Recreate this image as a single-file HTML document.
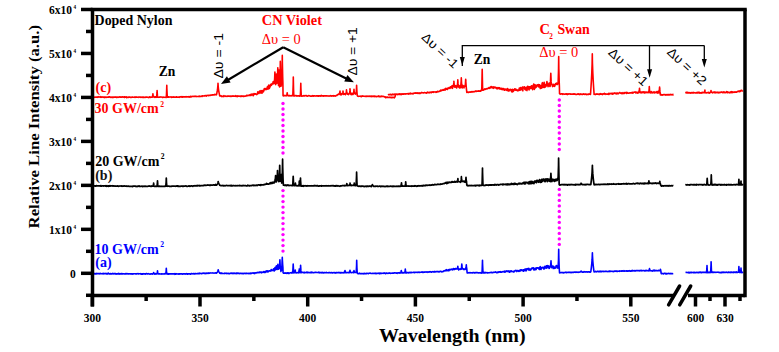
<!DOCTYPE html>
<html><head><meta charset="utf-8"><style>
html,body{margin:0;padding:0;background:#fff;}
svg{display:block;}
</style></head><body>
<svg width="779" height="352" viewBox="0 0 779 352">
<rect width="779" height="352" fill="#fff"/>
<g fill="#ff00ff"><circle cx="283" cy="103.50" r="1.7"/><circle cx="283" cy="109.00" r="1.7"/><circle cx="283" cy="114.50" r="1.7"/><circle cx="283" cy="120.00" r="1.7"/><circle cx="283" cy="125.50" r="1.7"/><circle cx="283" cy="131.00" r="1.7"/><circle cx="283" cy="136.50" r="1.7"/><circle cx="283" cy="142.00" r="1.7"/><circle cx="283" cy="147.50" r="1.7"/><circle cx="283" cy="153.00" r="1.7"/><circle cx="283" cy="190.60" r="1.7"/><circle cx="283" cy="196.10" r="1.7"/><circle cx="283" cy="201.60" r="1.7"/><circle cx="283" cy="207.10" r="1.7"/><circle cx="283" cy="212.60" r="1.7"/><circle cx="283" cy="218.10" r="1.7"/><circle cx="283" cy="223.60" r="1.7"/><circle cx="283" cy="229.10" r="1.7"/><circle cx="283" cy="234.60" r="1.7"/><circle cx="283" cy="240.10" r="1.7"/><circle cx="283" cy="245.60" r="1.7"/><circle cx="283" cy="251.10" r="1.7"/><circle cx="559.3" cy="100.00" r="1.7"/><circle cx="559.3" cy="105.50" r="1.7"/><circle cx="559.3" cy="111.00" r="1.7"/><circle cx="559.3" cy="116.50" r="1.7"/><circle cx="559.3" cy="122.00" r="1.7"/><circle cx="559.3" cy="127.50" r="1.7"/><circle cx="559.3" cy="133.00" r="1.7"/><circle cx="559.3" cy="138.50" r="1.7"/><circle cx="559.3" cy="144.00" r="1.7"/><circle cx="559.3" cy="149.50" r="1.7"/><circle cx="559.3" cy="189.40" r="1.7"/><circle cx="559.3" cy="194.90" r="1.7"/><circle cx="559.3" cy="200.40" r="1.7"/><circle cx="559.3" cy="205.90" r="1.7"/><circle cx="559.3" cy="211.40" r="1.7"/><circle cx="559.3" cy="216.90" r="1.7"/><circle cx="559.3" cy="222.40" r="1.7"/><circle cx="559.3" cy="227.90" r="1.7"/><circle cx="559.3" cy="233.40" r="1.7"/><circle cx="559.3" cy="238.90" r="1.7"/><circle cx="559.3" cy="244.40" r="1.7"/></g>
<polyline points="93.00,97.20 93.35,96.99 93.70,97.15 94.05,97.23 94.40,97.37 94.75,97.14 95.10,97.29 95.45,97.19 95.80,97.01 96.15,97.13 96.50,97.05 96.85,97.15 97.20,97.32 97.55,96.93 97.90,97.21 98.25,97.14 98.60,96.96 98.95,96.66 99.30,97.05 99.65,97.02 100.00,97.11 100.35,97.27 100.70,96.71 101.05,97.40 101.40,97.20 101.75,97.24 102.10,96.86 102.45,97.06 102.80,97.03 103.15,97.24 103.50,96.98 103.85,97.13 104.20,97.66 104.55,97.12 104.90,96.94 105.25,97.20 105.60,97.03 105.95,97.50 106.30,97.26 106.65,97.16 107.00,96.96 107.35,97.15 107.70,97.29 108.05,97.12 108.40,97.25 108.75,96.91 109.10,97.27 109.45,96.91 109.80,96.92 110.15,97.14 110.50,97.09 110.85,97.44 111.20,97.33 111.55,97.09 111.90,97.33 112.25,97.55 112.60,97.09 112.95,97.01 113.30,97.01 113.65,97.31 114.00,97.03 114.35,96.97 114.70,97.23 115.05,97.31 115.40,97.01 115.75,97.20 116.10,97.07 116.45,97.36 116.80,96.98 117.15,97.44 117.50,97.19 117.85,97.00 118.20,97.07 118.55,97.22 118.90,97.37 119.25,97.17 119.60,96.90 119.95,96.85 120.30,97.27 120.65,97.14 121.00,96.96 121.35,97.14 121.70,97.03 122.05,97.24 122.40,96.80 122.75,96.91 123.10,96.96 123.45,97.16 123.80,97.26 124.15,96.93 124.50,97.46 124.85,96.84 125.20,97.02 125.55,97.25 125.90,97.23 126.25,96.84 126.60,97.64 126.95,97.09 127.30,97.40 127.65,97.35 128.00,97.20 128.35,97.04 128.70,97.36 129.05,97.06 129.40,97.20 129.75,97.13 130.10,97.09 130.45,97.39 130.80,97.29 131.15,97.19 131.50,97.41 131.85,97.07 132.20,97.20 132.55,97.12 132.90,97.21 133.25,97.25 133.60,97.24 133.95,97.25 134.30,97.13 134.65,97.09 135.00,97.39 135.35,96.99 135.70,97.16 136.05,96.88 136.40,97.04 136.75,97.24 137.10,97.27 137.45,97.30 137.80,97.14 138.15,97.35 138.50,96.99 138.85,97.07 139.20,97.06 139.55,97.11 139.90,97.07 140.25,97.08 140.60,97.02 140.95,97.35 141.30,97.34 141.65,97.27 142.00,97.05 142.35,97.00 142.70,97.37 143.05,97.09 143.40,97.39 143.75,97.02 144.10,97.54 144.45,97.34 144.80,97.29 145.15,97.08 145.50,97.34 145.85,97.10 146.20,97.15 146.55,97.24 146.90,97.05 147.25,97.25 147.60,97.23 147.95,97.37 148.30,97.28 148.65,97.32 149.00,97.59 149.35,96.96 149.70,96.84 150.05,97.22 150.40,97.08 150.75,97.50 151.10,97.16 151.45,97.24 151.80,97.09 152.15,97.03 152.40,97.16 152.50,96.73 152.85,94.57 152.90,93.70 153.20,96.25 153.40,97.04 153.55,97.05 153.90,96.99 154.25,96.72 154.60,97.40 154.95,97.07 155.30,96.97 155.65,96.80 156.00,97.37 156.35,97.03 156.60,97.15 156.70,96.32 157.05,92.17 157.10,90.50 157.40,95.40 157.60,97.15 157.75,97.11 158.10,97.33 158.45,97.28 158.80,97.30 159.15,97.05 159.50,97.29 159.85,97.27 160.20,96.83 160.55,97.05 160.90,97.01 161.25,96.99 161.60,97.08 161.95,97.17 162.30,97.41 162.65,97.52 163.00,97.08 163.35,96.94 163.70,97.32 164.05,97.36 164.40,97.18 164.75,97.25 165.10,97.33 165.45,97.29 165.80,97.00 166.15,97.51 166.30,96.85 166.50,94.03 166.80,85.40 166.85,88.34 167.20,95.65 167.30,97.12 167.55,97.23 167.90,97.25 168.25,96.91 168.60,97.23 168.95,96.84 169.30,97.08 169.65,96.97 170.00,96.94 170.35,97.08 170.70,96.97 171.05,96.85 171.40,97.03 171.75,97.47 172.10,97.01 172.45,97.03 172.80,97.16 173.15,97.15 173.50,96.78 173.85,97.13 174.20,97.05 174.55,97.22 174.90,97.05 175.25,97.23 175.60,97.19 175.95,97.18 176.30,96.77 176.65,97.01 177.00,97.14 177.35,97.06 177.70,97.16 178.05,97.31 178.40,96.94 178.75,96.95 179.10,97.23 179.45,97.36 179.80,96.75 180.15,96.75 180.50,96.93 180.85,97.03 181.20,96.58 181.55,97.07 181.90,96.86 182.25,96.86 182.60,97.19 182.95,96.61 183.30,96.95 183.65,97.03 184.00,96.84 184.35,96.74 184.70,96.96 185.05,96.72 185.40,96.92 185.75,96.95 186.10,96.54 186.45,96.94 186.80,96.79 187.15,96.72 187.50,96.89 187.85,96.88 188.20,96.70 188.55,96.88 188.90,96.51 189.25,96.64 189.60,96.84 189.95,97.18 190.30,96.67 190.65,96.25 191.00,96.39 191.35,96.81 191.70,96.57 192.05,96.37 192.40,96.50 192.75,96.57 193.10,96.37 193.45,96.27 193.80,96.55 194.15,96.37 194.50,96.52 194.85,96.28 195.20,96.54 195.55,96.52 195.90,96.17 196.25,96.41 196.60,96.62 196.95,96.48 197.30,96.54 197.65,96.48 198.00,96.51 198.35,96.59 198.70,96.52 199.05,96.14 199.40,96.17 199.75,96.60 200.10,96.51 200.45,96.22 200.80,96.54 201.15,96.32 201.50,96.09 201.85,95.98 202.20,96.34 202.55,95.78 202.90,96.06 203.25,96.04 203.60,95.95 203.95,95.89 204.30,95.74 204.65,95.90 205.00,95.57 205.35,95.85 205.70,95.76 206.05,95.50 206.40,96.07 206.75,95.45 207.10,95.55 207.45,95.41 207.80,95.48 208.15,95.32 208.50,95.62 208.85,95.33 209.20,95.30 209.55,95.42 209.90,95.36 210.25,95.47 210.60,95.01 210.95,95.00 211.30,95.10 211.65,95.10 212.00,95.28 212.35,94.88 212.70,94.99 213.05,94.81 213.40,94.74 213.75,94.98 214.10,95.06 214.45,94.42 214.80,94.63 215.15,94.71 215.50,94.54 215.85,94.71 216.20,94.87 216.40,94.75 216.55,94.60 216.90,92.87 217.25,90.91 217.60,88.52 217.95,84.80 218.00,83.30 218.30,87.69 218.65,90.28 219.00,92.34 219.35,94.12 219.60,95.29 219.70,95.94 220.05,95.83 220.40,95.81 220.75,95.87 221.10,96.15 221.45,95.96 221.80,96.64 222.15,96.19 222.50,96.24 222.85,96.18 223.20,96.61 223.55,96.10 223.90,95.71 224.25,96.07 224.60,96.04 224.95,96.37 225.30,96.05 225.65,96.04 226.00,96.20 226.35,96.32 226.70,96.25 227.05,96.47 227.40,96.15 227.75,96.26 228.10,96.02 228.45,96.14 228.80,96.10 229.15,96.18 229.50,96.10 229.85,96.34 230.20,96.47 230.55,95.96 230.90,96.02 231.25,96.00 231.60,96.32 231.95,96.15 232.30,96.12 232.65,96.25 233.00,95.89 233.35,96.21 233.70,95.95 234.05,96.19 234.40,96.04 234.75,96.15 235.10,96.25 235.45,96.36 235.80,95.70 236.15,96.04 236.50,96.09 236.85,96.20 237.20,96.70 237.55,95.87 237.90,96.15 238.25,96.13 238.60,96.09 238.95,96.21 239.30,96.23 239.65,96.14 240.00,96.33 240.35,95.96 240.70,95.99 241.05,96.48 241.40,96.24 241.75,95.92 242.10,95.99 242.45,96.21 242.80,96.06 243.15,96.39 243.50,96.03 243.85,96.02 244.20,96.32 244.55,96.20 244.90,96.07 245.25,96.19 245.60,96.04 245.95,95.87 246.30,95.98 246.65,95.98 247.00,95.18 247.35,95.71 247.70,95.44 248.05,95.63 248.40,95.29 248.75,95.30 249.10,94.98 249.45,95.40 249.80,95.39 250.15,94.55 250.50,95.35 250.85,95.42 251.20,94.34 251.55,95.09 251.90,94.04 252.25,94.03 252.60,94.81 252.95,94.20 253.30,95.77 253.65,94.66 254.00,93.53 254.35,94.11 254.70,94.26 255.05,94.13 255.40,93.77 255.75,93.77 256.10,93.93 256.45,94.55 256.80,94.05 257.15,94.29 257.50,93.51 257.85,91.69 258.20,93.52 258.55,93.19 258.90,93.51 259.25,92.37 259.60,91.05 259.95,91.03 260.30,92.90 260.65,92.86 261.00,90.56 261.35,91.76 261.70,90.94 262.05,93.27 262.40,90.46 262.75,91.69 263.10,91.06 263.45,91.81 263.80,90.52 264.15,88.84 264.50,88.58 264.85,89.62 265.20,88.60 265.55,88.99 265.90,89.41 266.25,88.46 266.60,89.47 266.95,88.86 267.30,87.11 267.65,86.47 268.00,89.24 268.35,86.18 268.70,85.15 269.05,87.01 269.40,88.48 269.75,85.40 270.10,86.88 270.45,84.63 270.80,85.57 271.15,84.17 271.50,85.31 271.85,84.44 272.20,83.70 272.55,83.14 272.90,84.02 273.25,81.48 273.60,83.51 273.95,83.39 274.30,83.04 274.65,78.53 274.90,72.00 275.00,75.77 275.35,81.29 275.50,84.30 275.70,84.65 275.80,83.28 276.05,80.12 276.30,74.00 276.40,77.53 276.75,82.71 276.80,83.20 277.10,82.86 277.20,82.81 277.45,79.67 277.80,67.80 278.15,79.67 278.40,84.20 278.50,85.40 278.85,77.48 279.00,70.00 279.20,78.89 279.50,85.40 279.55,86.85 279.70,86.55 279.90,80.61 280.25,66.92 280.30,61.40 280.60,77.56 280.90,85.16 280.95,86.29 281.30,84.36 281.65,84.88 281.70,84.29 282.00,73.72 282.30,55.40 282.35,61.65 282.70,77.18 282.90,83.17 283.05,95.43 283.40,95.90 283.75,95.44 284.10,95.42 284.45,95.58 284.80,95.79 285.15,95.47 285.50,95.54 285.85,95.65 286.20,95.87 286.55,95.67 286.70,95.26 286.90,94.89 287.20,92.70 287.25,93.45 287.60,95.30 287.70,95.44 287.95,95.61 288.30,95.68 288.65,95.46 289.00,95.83 289.35,95.83 289.70,95.45 290.05,95.81 290.40,95.69 290.75,95.90 291.10,95.90 291.45,95.54 291.80,95.62 292.15,95.68 292.50,95.66 292.80,95.70 292.85,94.64 293.20,84.21 293.30,77.10 293.55,89.43 293.80,95.58 293.90,95.85 294.25,95.80 294.60,95.93 294.95,95.59 295.30,95.72 295.65,95.66 296.00,95.79 296.35,95.95 296.70,95.59 297.05,96.13 297.40,95.99 297.75,95.88 298.10,95.75 298.45,96.00 298.80,95.95 299.15,95.78 299.50,96.11 299.85,95.85 300.20,95.95 300.30,95.66 300.55,91.61 300.80,83.30 300.90,88.10 301.25,95.13 301.30,95.90 301.60,96.15 301.95,95.93 302.30,96.15 302.65,95.92 303.00,96.06 303.35,95.82 303.70,95.71 304.05,95.55 304.40,96.04 304.75,95.86 305.10,95.81 305.45,95.63 305.80,95.73 306.15,95.76 306.50,95.60 306.85,96.08 307.20,96.26 307.55,96.14 307.90,95.95 308.25,95.93 308.60,95.68 308.95,95.47 309.30,95.82 309.65,95.73 310.00,96.07 310.35,96.08 310.70,96.07 311.05,96.10 311.40,96.11 311.75,96.21 312.10,95.87 312.45,96.01 312.80,95.71 313.15,96.26 313.50,96.00 313.85,95.84 314.20,95.81 314.55,95.90 314.90,95.86 315.25,96.08 315.60,96.02 315.95,95.82 316.30,95.85 316.65,95.91 317.00,96.11 317.35,95.82 317.70,95.74 318.05,95.69 318.40,96.22 318.75,95.85 319.10,96.00 319.45,95.74 319.80,95.85 320.15,96.13 320.50,95.62 320.85,96.01 321.20,95.98 321.55,95.46 321.90,95.83 322.25,96.01 322.60,95.82 322.95,95.86 323.30,96.18 323.65,95.84 324.00,95.78 324.35,95.80 324.70,95.89 325.05,95.86 325.40,95.87 325.75,95.89 326.10,95.87 326.45,95.71 326.80,95.72 327.15,96.05 327.50,95.92 327.85,95.86 328.20,95.92 328.55,95.93 328.90,96.15 329.25,96.00 329.60,95.93 329.95,95.86 330.30,95.55 330.65,96.01 331.00,95.85 331.35,96.09 331.70,95.79 332.05,95.76 332.40,96.02 332.75,95.80 333.10,95.65 333.45,96.05 333.80,95.80 334.15,96.00 334.50,95.88 334.85,96.03 335.20,96.10 335.55,95.77 335.90,95.81 336.25,95.52 336.60,95.29 336.95,95.39 337.30,94.99 337.65,94.62 338.00,94.33 338.35,93.99 338.70,94.23 339.05,94.45 339.40,93.93 339.50,93.20 339.75,92.99 340.00,91.00 340.10,92.15 340.45,93.83 340.50,93.69 340.80,94.87 341.15,93.46 341.50,94.75 341.85,94.34 342.20,93.56 342.50,93.97 342.55,93.79 342.90,92.13 343.00,91.00 343.25,92.96 343.50,93.97 343.60,94.39 343.95,93.89 344.30,94.15 344.65,93.60 345.00,94.11 345.35,94.72 345.70,94.17 346.00,93.60 346.05,93.66 346.40,91.37 346.50,89.80 346.75,92.51 347.00,93.24 347.10,93.42 347.45,94.17 347.80,93.54 348.15,94.26 348.50,94.53 348.85,93.90 349.20,93.89 349.50,93.28 349.55,93.54 349.90,90.66 350.00,88.70 350.25,92.10 350.50,93.28 350.60,93.61 350.95,94.53 351.30,93.25 351.65,94.62 352.00,94.43 352.35,93.76 352.70,93.36 353.05,94.53 353.40,93.00 353.50,93.61 353.75,92.27 354.00,89.30 354.10,91.01 354.45,93.46 354.50,93.51 354.80,93.45 355.15,93.32 355.50,94.13 355.85,92.96 356.10,93.75 356.20,92.68 356.55,87.35 356.60,85.20 356.90,91.50 357.10,93.75 357.25,95.44 357.60,96.20 357.95,96.17 358.30,96.38 358.65,96.31 359.00,96.23 359.35,96.27 359.70,96.31 360.05,96.15 360.40,96.37 360.75,96.17 361.10,96.10 361.45,96.71 361.80,96.07 362.15,96.11 362.50,96.21 362.85,95.88 363.20,96.15 363.55,96.27 363.90,96.26 364.25,96.34 364.60,96.30 364.95,96.23 365.30,96.40 365.65,96.28 366.00,96.22 366.35,96.46 366.70,96.03 367.05,96.31 367.40,96.42 367.75,96.21 368.10,96.27 368.45,96.33 368.80,96.12 369.15,96.49 369.50,96.32 369.85,96.11 370.20,96.38 370.55,96.54 370.90,96.11 371.25,96.64 371.60,96.04 371.95,96.37 372.30,96.42 372.65,96.31 373.00,96.02 373.35,96.37 373.70,96.49 374.05,96.31 374.40,96.07 374.75,96.75 375.10,96.30 375.45,96.33 375.80,96.36 376.15,96.43 376.50,96.76 376.85,96.58 377.20,96.35 377.55,96.50 377.90,96.46 378.25,96.42 378.60,95.96 378.95,96.68 379.30,96.67 379.65,96.26 380.00,96.52 380.35,96.73 380.70,96.24 381.05,96.71 381.40,96.36 381.75,96.09 382.10,96.33 382.45,96.35 382.80,96.35 383.15,96.50 383.50,96.56 383.85,96.37 384.20,96.83 384.55,96.98 384.90,96.88 385.25,97.29 385.60,97.71 385.95,96.88 386.30,97.41 386.65,97.48 387.00,97.61 387.35,97.01 387.70,97.21 388.05,97.35 388.40,97.43 388.75,97.47 389.10,97.32 389.45,97.50 389.80,97.35 390.15,97.32 390.50,97.26 390.85,97.49 391.20,97.70 391.55,97.39 391.90,97.49 392.25,97.67 392.60,97.37 392.95,97.17 393.30,97.40 393.65,97.54 394.00,97.62 394.35,97.82 394.70,97.16 395.05,96.91 395.40,94.54 395.75,94.19 396.10,94.52 396.45,94.21 396.80,94.05 397.15,94.54 397.50,94.34 397.85,94.69 398.20,94.19 398.55,94.05 398.90,94.10 399.25,93.82 399.60,94.00 399.95,94.61 400.30,93.91 400.65,94.18 401.00,94.34 401.35,94.54 401.70,93.81 402.05,94.14 402.40,94.05 402.75,93.74 403.10,94.15 403.45,94.17 403.80,93.74 404.15,93.68 404.50,94.08 404.85,93.92 405.20,94.10 405.55,93.73 405.90,93.80 406.25,93.71 406.60,93.87 406.95,93.96 407.30,93.66 407.65,93.77 408.00,93.65 408.35,94.15 408.70,93.58 409.05,93.35 409.40,93.71 409.75,93.96 410.10,93.69 410.45,93.22 410.80,93.84 411.15,93.46 411.50,93.62 411.85,93.53 412.20,93.47 412.55,93.55 412.90,93.99 413.25,93.43 413.60,93.66 413.95,93.00 414.30,92.99 414.65,93.16 415.00,93.24 415.35,92.92 415.70,93.28 416.05,93.05 416.40,93.19 416.75,92.87 417.10,93.07 417.45,93.18 417.80,92.92 418.15,93.53 418.50,93.10 418.85,93.02 419.20,93.24 419.55,92.92 419.90,93.62 420.25,93.33 420.60,92.90 420.95,93.03 421.30,92.92 421.65,92.40 422.00,92.54 422.35,92.80 422.70,92.72 423.05,92.98 423.40,92.73 423.75,92.84 424.10,92.64 424.45,92.50 424.80,92.56 425.15,92.79 425.50,92.73 425.85,92.96 426.20,92.69 426.55,93.15 426.90,92.66 427.25,92.50 427.60,92.14 427.95,92.54 428.30,92.82 428.65,92.73 429.00,92.48 429.35,92.80 429.70,92.25 430.05,92.45 430.40,92.46 430.75,92.60 431.10,91.95 431.45,92.66 431.80,92.41 432.15,92.20 432.50,91.83 432.85,92.09 433.20,91.83 433.55,92.34 433.90,91.83 434.25,91.99 434.60,91.99 434.95,92.05 435.30,91.87 435.65,92.15 436.00,92.39 436.35,91.72 436.70,92.21 437.05,91.91 437.40,91.25 437.75,91.82 438.10,91.72 438.45,91.63 438.80,91.71 439.15,91.34 439.50,91.08 439.85,91.21 440.20,91.11 440.55,90.19 440.90,90.33 441.25,90.38 441.60,90.75 441.95,90.28 442.30,89.94 442.65,90.07 443.00,89.61 443.35,90.08 443.70,89.72 444.05,90.27 444.40,89.50 444.75,89.00 445.10,89.09 445.45,89.90 445.80,88.39 446.15,88.93 446.50,89.28 446.85,89.21 447.20,88.20 447.55,89.45 447.90,88.33 448.25,88.01 448.60,88.23 448.95,87.59 449.30,88.12 449.65,87.97 450.00,88.44 450.35,86.69 450.70,87.81 451.05,87.12 451.40,87.64 451.75,86.32 452.10,85.81 452.45,88.33 452.80,85.60 453.15,86.70 453.40,86.61 453.50,85.94 453.85,82.63 453.90,81.30 454.20,85.21 454.40,86.61 454.55,87.10 454.90,86.24 455.25,85.87 455.60,85.58 455.95,87.28 456.30,86.35 456.65,88.05 457.00,87.19 457.20,85.30 457.35,85.62 457.70,82.22 457.80,79.90 458.05,83.92 458.40,85.55 458.75,87.10 459.10,85.47 459.45,87.89 459.80,87.91 460.15,86.03 460.50,86.80 460.70,87.78 460.85,85.36 461.20,80.87 461.30,77.80 461.55,83.11 461.90,85.92 462.25,87.91 462.60,86.41 462.95,85.40 463.30,86.70 463.65,85.97 464.00,87.86 464.35,85.94 464.70,86.57 465.05,85.66 465.10,85.87 465.40,84.27 465.70,79.20 465.75,80.93 466.10,85.23 466.30,87.46 466.45,89.07 466.80,92.40 467.15,92.31 467.50,91.84 467.85,92.29 468.20,92.48 468.55,92.47 468.90,92.06 469.25,92.22 469.60,92.02 469.95,91.88 470.30,91.84 470.65,92.21 471.00,92.17 471.35,91.87 471.70,91.63 472.05,91.85 472.40,92.03 472.75,91.64 473.10,92.01 473.45,91.66 473.80,91.58 474.15,91.58 474.50,91.77 474.85,91.53 475.20,91.48 475.55,91.07 475.90,91.18 476.25,91.02 476.60,91.33 476.95,90.99 477.30,91.09 477.65,91.18 478.00,91.20 478.35,90.90 478.70,91.22 479.05,90.93 479.40,91.20 479.75,91.00 480.10,91.25 480.45,90.54 480.80,91.04 481.15,90.34 481.50,90.19 481.70,90.27 481.85,86.21 482.20,69.20 482.55,86.21 482.70,90.27 482.90,89.95 483.25,90.22 483.60,89.66 483.95,89.57 484.30,89.60 484.65,88.89 485.00,89.52 485.35,89.38 485.70,88.89 486.05,88.98 486.40,88.87 486.75,88.96 487.10,88.46 487.45,88.75 487.80,88.61 488.15,88.25 488.50,88.22 488.85,87.61 489.20,88.25 489.55,88.11 489.90,88.36 490.25,87.05 490.60,87.64 490.95,86.69 491.30,86.50 491.65,86.86 492.00,87.82 492.35,87.98 492.70,87.67 493.05,86.74 493.40,87.11 493.75,88.34 494.10,87.30 494.45,87.27 494.80,86.99 495.15,87.68 495.50,87.35 495.85,87.57 496.20,88.16 496.55,88.62 496.90,87.60 497.25,88.83 497.60,88.56 497.95,87.83 498.30,88.44 498.65,88.39 499.00,87.70 499.35,88.89 499.70,87.75 500.05,88.16 500.40,89.01 500.75,88.85 501.10,89.25 501.45,88.35 501.80,89.42 502.15,89.70 502.50,88.48 502.85,88.80 503.20,88.73 503.55,88.64 503.90,89.74 504.25,90.14 504.60,89.11 504.95,90.14 505.30,89.28 505.65,89.09 506.00,89.18 506.35,89.33 506.70,90.33 507.05,90.23 507.40,88.64 507.75,90.67 508.10,89.82 508.45,90.92 508.80,89.23 509.15,90.85 509.50,90.36 509.85,90.02 510.20,89.60 510.55,89.27 510.90,89.84 511.25,90.52 511.60,91.64 511.95,89.97 512.30,89.37 512.65,91.91 513.00,89.56 513.35,91.19 513.70,90.79 514.05,90.32 514.40,89.74 514.75,88.79 515.10,89.56 515.45,90.22 515.80,89.05 516.15,89.92 516.50,90.33 516.85,90.40 517.20,89.88 517.55,90.67 517.90,90.83 518.25,90.74 518.60,89.87 518.95,90.31 519.30,88.08 519.65,88.06 520.00,90.10 520.35,88.90 520.70,87.48 521.05,89.86 521.40,89.35 521.75,89.32 522.10,88.26 522.45,87.09 522.80,90.82 523.15,86.93 523.50,88.02 523.85,87.66 524.20,88.09 524.55,86.80 524.90,89.47 525.25,87.57 525.60,89.84 525.95,88.52 526.30,87.45 526.65,90.00 527.00,90.55 527.35,86.75 527.70,86.22 528.05,86.87 528.40,89.01 528.75,86.77 529.10,90.03 529.45,86.77 529.80,87.11 530.15,86.80 530.50,87.97 530.85,88.60 531.20,86.11 531.55,87.78 531.90,85.69 532.25,87.89 532.60,89.60 532.95,86.93 533.30,85.90 533.65,84.15 534.00,84.22 534.35,89.49 534.70,84.82 535.05,88.08 535.40,85.03 535.75,87.09 536.10,87.29 536.45,86.15 536.80,85.90 537.15,84.78 537.50,84.93 537.85,85.02 538.20,86.58 538.55,84.46 538.90,86.88 539.25,84.88 539.60,85.94 539.95,85.14 540.30,88.55 540.65,85.45 541.00,87.02 541.35,86.01 541.70,88.18 542.05,83.85 542.40,82.67 542.75,86.00 543.10,87.25 543.45,83.96 543.80,87.46 544.15,82.33 544.50,87.33 544.85,85.57 545.20,84.63 545.55,86.91 545.90,85.65 546.25,85.93 546.60,83.12 546.95,81.46 547.30,85.22 547.65,83.04 548.00,86.65 548.35,84.04 548.70,84.95 549.05,85.89 549.40,83.16 549.75,83.67 550.10,86.53 550.20,85.12 550.45,81.88 550.80,73.40 551.15,81.88 551.40,84.03 551.50,83.29 551.85,84.88 552.20,85.02 552.55,86.57 552.90,85.93 553.25,84.79 553.60,84.31 553.95,86.13 554.30,85.86 554.65,86.34 555.00,84.43 555.35,84.69 555.70,83.46 556.05,84.57 556.40,83.36 556.75,83.01 557.10,83.68 557.45,84.50 557.80,83.60 558.00,82.79 558.15,82.88 558.50,70.92 558.70,56.60 558.85,68.65 559.20,81.42 559.40,86.97 559.55,93.62 559.90,94.07 560.25,94.05 560.60,94.15 560.95,93.81 561.30,93.92 561.65,93.92 562.00,93.89 562.35,93.78 562.70,94.43 563.05,93.99 563.40,93.93 563.75,93.90 564.10,94.00 564.45,94.29 564.80,94.16 565.15,94.06 565.50,94.09 565.85,93.85 566.20,93.80 566.55,94.17 566.90,93.89 567.25,94.55 567.60,93.94 567.95,94.22 568.30,94.24 568.65,93.82 569.00,94.05 569.35,93.81 569.70,93.92 570.05,94.12 570.40,93.93 570.75,94.26 571.10,94.30 571.45,94.13 571.80,94.23 572.15,94.14 572.50,94.27 572.85,94.00 573.20,94.18 573.55,94.30 573.90,93.84 574.25,94.07 574.60,93.73 574.95,94.05 575.30,94.11 575.65,94.39 576.00,94.27 576.35,94.44 576.70,94.52 577.05,94.35 577.40,94.08 577.75,93.89 578.10,94.13 578.45,93.74 578.80,94.09 579.15,94.47 579.50,94.04 579.85,94.61 580.20,94.34 580.55,93.89 580.90,94.20 581.25,94.21 581.60,94.43 581.95,94.08 582.30,94.43 582.65,94.51 583.00,94.13 583.35,94.26 583.70,93.81 584.05,94.17 584.40,94.03 584.75,94.34 585.10,94.08 585.45,94.16 585.80,94.13 586.15,94.55 586.50,94.23 586.85,94.37 587.20,94.51 587.55,94.51 587.90,94.23 588.25,94.02 588.60,94.46 588.95,93.99 589.30,94.06 589.65,94.21 590.00,94.06 590.35,94.43 590.50,94.21 590.70,91.46 591.05,86.29 591.40,80.49 591.75,73.69 592.10,64.69 592.30,53.90 592.45,62.98 592.80,72.59 593.15,79.60 593.50,85.50 593.85,90.75 594.10,94.38 594.20,94.24 594.55,94.04 594.90,94.16 595.25,94.53 595.60,94.58 595.95,94.08 596.30,93.91 596.65,94.00 597.00,94.23 597.35,94.12 597.70,94.11 598.05,93.97 598.40,93.97 598.75,94.38 599.10,94.60 599.45,94.43 599.80,93.77 600.15,94.25 600.50,93.69 600.85,94.24 601.20,94.03 601.55,93.87 601.90,94.10 602.25,94.54 602.60,94.14 602.95,93.74 603.30,93.76 603.65,93.89 604.00,94.18 604.35,93.33 604.70,93.98 605.05,93.85 605.40,93.86 605.75,94.29 606.10,93.94 606.45,93.99 606.80,94.00 607.15,94.24 607.50,94.03 607.85,93.87 608.20,94.07 608.55,93.44 608.90,94.38 609.25,94.14 609.60,93.38 609.95,93.78 610.30,93.61 610.65,93.73 611.00,93.39 611.35,93.92 611.70,93.28 612.05,93.29 612.40,93.68 612.75,94.22 613.10,93.13 613.45,93.61 613.80,93.56 614.15,93.38 614.50,93.25 614.85,92.86 615.20,93.37 615.55,93.20 615.90,93.46 616.25,93.87 616.60,93.20 616.95,93.63 617.30,92.99 617.65,93.20 618.00,93.67 618.35,93.80 618.70,93.31 619.05,93.10 619.40,92.62 619.75,92.69 620.10,92.58 620.45,93.15 620.80,93.20 621.15,93.46 621.50,93.14 621.85,93.66 622.20,92.66 622.55,93.57 622.90,93.60 623.25,93.35 623.60,93.20 623.95,92.49 624.30,93.47 624.65,93.15 625.00,92.60 625.35,92.59 625.70,92.70 626.05,92.82 626.40,93.49 626.75,92.33 627.10,92.46 627.45,92.83 627.80,93.16 628.15,93.12 628.50,93.06 628.85,93.28 629.20,93.06 629.55,92.90 629.90,92.84 630.25,93.00 630.60,92.85 630.95,92.88 631.30,93.01 631.65,92.47 632.00,92.66 632.35,93.04 632.70,92.28 633.05,92.58 633.40,92.81 633.75,92.31 634.10,92.27 634.45,92.10 634.80,91.98 635.15,92.18 635.50,92.06 635.85,92.98 636.20,92.10 636.55,92.63 636.90,92.81 637.25,93.02 637.60,92.29 637.95,93.30 638.30,92.17 638.65,92.01 639.00,92.13 639.35,90.25 639.50,88.30 639.70,90.62 640.00,92.32 640.05,92.71 640.40,92.75 640.75,92.19 641.10,92.74 641.45,92.30 641.80,92.88 642.15,91.95 642.50,92.25 642.85,92.14 643.20,92.67 643.55,91.83 643.90,92.03 644.25,92.01 644.60,92.97 644.95,91.85 645.30,92.34 645.65,92.68 646.00,92.44 646.35,92.11 646.70,92.25 647.05,92.69 647.40,92.57 647.75,92.51 648.10,91.78 648.45,92.62 648.80,92.30 649.15,89.32 649.30,86.50 649.50,89.85 649.80,91.82 649.85,92.65 650.20,92.26 650.55,92.46 650.90,92.94 651.25,91.59 651.60,91.79 651.95,92.63 652.30,92.50 652.65,92.50 653.00,92.93 653.35,92.07 653.70,92.06 654.05,91.80 654.40,92.15 654.75,92.94 655.10,92.71 655.45,92.29 655.80,92.16 656.15,92.16 656.50,92.42 656.85,91.60 657.20,93.15 657.55,92.33 657.90,92.44 658.25,91.36 658.60,92.93 658.95,92.74 659.10,92.30 659.30,90.93 659.60,87.10 659.65,88.41 660.00,91.65 660.10,92.30 660.35,94.86 660.70,94.59 661.05,94.91 661.40,94.63 661.75,94.70 662.10,95.16 662.45,94.99 662.80,94.76 663.15,94.67 663.50,94.65 663.85,94.85 664.20,94.59 664.55,94.60 664.90,94.72 665.25,94.68 665.60,95.05 665.95,94.50 666.30,94.85 666.65,94.91 667.00,94.63 667.35,94.48 667.70,94.91 668.05,95.05 668.40,94.53 668.75,94.51 669.10,94.92 669.45,94.94 669.80,94.61 670.15,94.25 670.50,94.67 670.85,94.47 671.20,94.83 671.55,94.64 671.90,94.60 672.25,94.66 672.60,94.65 672.95,95.00 673.30,94.40 673.50,94.39" fill="none" stroke="#ff0000" stroke-width="1.6" stroke-linejoin="round"/>
<polyline points="685.40,92.43 685.75,92.69 686.10,92.24 686.45,92.37 686.80,93.03 687.15,92.31 687.50,92.92 687.85,92.53 688.20,93.01 688.55,92.68 688.90,92.53 689.25,92.90 689.60,92.96 689.95,92.64 690.30,93.14 690.65,93.01 691.00,92.88 691.35,92.63 691.70,92.94 692.05,92.64 692.40,92.80 692.75,92.95 693.10,92.28 693.45,92.99 693.80,92.84 694.15,92.78 694.50,92.78 694.85,92.60 695.20,92.93 695.55,92.98 695.90,92.93 696.25,93.03 696.60,92.51 696.95,92.91 697.30,92.36 697.65,92.85 698.00,92.39 698.35,92.94 698.70,92.39 699.05,92.13 699.40,92.81 699.75,93.06 700.10,92.68 700.45,92.75 700.80,92.77 701.15,93.24 701.50,92.46 701.85,92.64 702.20,92.37 702.55,92.46 702.90,92.86 703.25,92.53 703.60,92.31 703.95,92.51 704.30,92.45 704.40,92.70 704.65,92.00 704.90,90.00 705.00,91.15 705.35,92.84 705.40,92.59 705.70,92.48 706.05,92.63 706.40,92.85 706.75,92.83 707.10,92.60 707.45,92.56 707.80,92.79 708.15,92.53 708.50,92.49 708.85,92.34 709.20,93.30 709.55,92.83 709.90,92.65 710.25,92.60 710.50,92.28 710.60,92.53 710.95,91.11 711.00,90.50 711.30,92.30 711.50,92.15 711.65,92.25 712.00,92.37 712.35,92.86 712.70,92.82 713.05,92.41 713.40,92.04 713.75,92.42 714.10,92.54 714.45,92.51 714.80,91.93 715.15,92.91 715.50,92.29 715.85,92.50 716.20,92.26 716.55,92.34 716.90,92.81 717.25,92.74 717.60,92.18 717.95,92.26 718.30,92.51 718.65,92.82 719.00,92.42 719.35,92.35 719.70,92.71 720.05,92.55 720.40,92.31 720.75,92.17 721.10,92.34 721.45,92.15 721.80,91.93 722.15,92.33 722.50,92.23 722.85,92.71 723.20,92.00 723.55,92.26 723.90,91.83 724.25,92.76 724.60,92.42 724.95,92.17 725.30,92.25 725.65,92.55 726.00,92.25 726.35,92.44 726.70,91.57 727.05,92.47 727.40,92.71 727.75,91.91 728.10,92.54 728.45,92.24 728.80,92.43 729.15,92.42 729.50,92.47 729.85,92.81 730.20,91.97 730.55,92.54 730.90,92.27 731.25,91.64 731.60,91.93 731.95,92.70 732.30,91.80 732.65,92.53 733.00,92.52 733.35,92.15 733.70,91.96 734.05,91.93 734.40,92.29 734.75,91.96 735.10,92.26 735.45,92.31 735.80,91.89 736.15,92.31 736.50,92.21 736.85,91.85 737.20,91.54 737.55,91.67 737.90,91.33 738.25,91.19 738.60,91.14 738.95,91.55 739.30,90.97 739.65,91.58 740.00,90.81 740.35,91.32 740.70,91.09 741.05,90.22 741.40,90.61 741.75,90.37 742.10,90.53 742.45,90.87 742.50,90.56" fill="none" stroke="#ff0000" stroke-width="1.6" stroke-linejoin="round"/>
<polyline points="388.00,94.96 388.35,94.73 388.70,94.58 389.05,94.60 389.40,94.53 389.75,94.63 390.10,94.29 390.45,94.61 390.80,94.30 391.15,94.41 391.50,94.95 391.85,94.65 392.20,94.62 392.55,94.16 392.90,94.67 393.25,94.52 393.60,94.58 393.95,94.11 394.30,94.47 394.65,94.17 395.00,94.36 395.35,94.61 395.40,94.52" fill="none" stroke="#ff0000" stroke-width="1.6" stroke-linejoin="round"/>
<polyline points="93.00,185.81 93.35,185.65 93.70,186.07 94.05,186.02 94.40,185.76 94.75,185.85 95.10,186.19 95.45,186.05 95.80,185.79 96.15,186.07 96.50,185.66 96.85,185.67 97.20,185.92 97.55,185.92 97.90,185.96 98.25,185.87 98.60,186.01 98.95,185.80 99.30,185.99 99.65,186.03 100.00,185.93 100.35,186.04 100.70,185.58 101.05,185.67 101.40,186.17 101.75,186.09 102.10,185.91 102.45,185.97 102.80,185.81 103.15,185.89 103.50,186.08 103.85,185.77 104.20,185.97 104.55,185.96 104.90,185.92 105.25,185.76 105.60,186.06 105.95,185.75 106.30,186.23 106.65,185.94 107.00,185.69 107.35,186.24 107.70,186.16 108.05,185.90 108.40,186.38 108.75,185.80 109.10,185.93 109.45,186.20 109.80,185.60 110.15,186.06 110.50,186.03 110.85,185.91 111.20,185.79 111.55,186.02 111.90,185.90 112.25,185.91 112.60,186.03 112.95,185.75 113.30,186.19 113.65,185.91 114.00,185.91 114.35,186.04 114.70,185.98 115.05,186.14 115.40,186.08 115.75,185.96 116.10,186.07 116.45,186.09 116.80,186.17 117.15,186.08 117.50,186.01 117.85,185.82 118.20,186.44 118.55,186.27 118.90,186.19 119.25,186.17 119.60,186.06 119.95,185.94 120.30,185.97 120.65,185.98 121.00,186.08 121.35,185.88 121.70,186.03 122.05,186.27 122.40,186.04 122.75,186.19 123.10,185.84 123.45,186.14 123.80,186.05 124.15,186.01 124.50,185.87 124.85,186.19 125.20,186.06 125.55,186.14 125.90,186.13 126.25,186.29 126.60,186.08 126.95,185.95 127.30,186.11 127.65,186.20 128.00,186.35 128.35,186.07 128.70,186.15 129.05,186.25 129.40,186.42 129.75,186.37 130.10,186.29 130.45,186.30 130.80,186.40 131.15,186.40 131.50,186.23 131.85,186.28 132.20,186.24 132.55,186.52 132.90,186.21 133.25,186.15 133.60,186.09 133.95,186.28 134.30,186.21 134.65,186.07 135.00,186.02 135.35,186.38 135.70,186.06 136.05,186.38 136.40,186.24 136.75,186.44 137.10,186.62 137.45,186.26 137.80,186.18 138.15,186.13 138.50,186.25 138.85,186.31 139.20,185.91 139.55,186.29 139.90,186.30 140.25,186.37 140.60,186.23 140.95,186.28 141.30,186.24 141.65,186.29 142.00,186.12 142.35,186.24 142.70,186.62 143.05,186.36 143.40,186.32 143.75,186.13 144.10,186.41 144.45,186.22 144.80,186.47 145.15,186.36 145.50,186.13 145.85,186.47 146.20,186.28 146.55,186.26 146.90,186.37 147.25,186.23 147.60,186.31 147.95,186.33 148.30,186.12 148.65,186.19 149.00,186.15 149.35,185.94 149.70,186.21 150.05,186.22 150.40,186.27 150.75,186.43 151.10,185.94 151.45,186.28 151.80,186.01 152.15,186.05 152.50,186.23 152.85,185.83 153.10,186.02 153.20,185.85 153.55,183.89 153.60,183.10 153.90,185.41 154.10,186.24 154.25,186.31 154.60,186.09 154.95,186.44 155.30,186.41 155.65,186.19 156.00,186.50 156.35,186.35 156.70,186.35 157.00,186.23 157.05,185.89 157.40,182.87 157.50,180.80 157.75,184.38 158.00,186.13 158.10,186.37 158.45,186.22 158.80,186.28 159.15,186.41 159.50,186.16 159.85,186.08 160.20,186.39 160.55,186.31 160.90,186.35 161.25,186.45 161.60,186.31 161.95,186.39 162.30,186.39 162.65,186.24 163.00,186.51 163.35,186.41 163.70,186.36 164.05,186.39 164.40,186.39 164.75,186.06 165.10,186.36 165.45,186.25 165.80,186.19 166.15,181.98 166.30,178.00 166.50,182.73 166.80,186.18 166.85,186.25 167.20,186.31 167.55,186.10 167.90,186.11 168.25,186.10 168.60,186.05 168.95,186.16 169.30,186.30 169.65,186.36 170.00,186.32 170.35,186.38 170.70,186.42 171.05,186.46 171.40,186.16 171.75,186.35 172.10,186.18 172.45,186.11 172.80,186.08 173.15,186.11 173.50,186.13 173.85,186.03 174.20,186.16 174.55,186.25 174.90,186.21 175.25,186.19 175.60,186.33 175.95,186.00 176.30,186.14 176.65,185.94 177.00,185.91 177.35,185.90 177.70,186.36 178.05,185.92 178.40,186.31 178.75,186.35 179.10,186.11 179.45,186.32 179.80,186.38 180.15,186.24 180.50,186.42 180.85,186.17 181.20,186.06 181.55,186.20 181.90,186.11 182.25,186.00 182.60,186.00 182.95,186.55 183.30,186.10 183.65,186.18 184.00,185.99 184.35,186.19 184.70,186.18 185.05,186.07 185.40,186.00 185.75,185.87 186.10,186.06 186.45,186.15 186.80,186.49 187.15,186.27 187.50,186.31 187.85,186.22 188.20,186.09 188.55,185.92 188.90,186.19 189.25,185.88 189.60,185.99 189.95,186.38 190.30,186.10 190.65,186.26 191.00,185.93 191.35,185.89 191.70,185.95 192.05,185.94 192.40,186.11 192.75,186.37 193.10,185.87 193.45,185.89 193.80,185.89 194.15,185.93 194.50,185.70 194.85,185.85 195.20,185.87 195.55,185.96 195.90,185.66 196.25,185.84 196.60,185.56 196.95,185.94 197.30,185.52 197.65,185.80 198.00,185.57 198.35,185.72 198.70,185.62 199.05,185.48 199.40,185.97 199.75,185.62 200.10,185.60 200.45,185.84 200.80,185.61 201.15,185.76 201.50,185.55 201.85,185.65 202.20,185.69 202.55,185.50 202.90,185.56 203.25,185.48 203.60,185.65 203.95,185.06 204.30,185.34 204.65,185.45 205.00,185.36 205.35,185.14 205.70,185.49 206.05,185.32 206.40,185.33 206.75,185.27 207.10,185.16 207.45,185.23 207.80,184.92 208.15,185.20 208.50,185.10 208.85,185.23 209.20,185.27 209.55,185.08 209.90,185.50 210.25,185.24 210.60,184.98 210.95,184.96 211.30,185.09 211.65,185.13 212.00,185.03 212.35,185.02 212.70,185.22 213.05,185.04 213.40,184.94 213.75,184.88 214.10,184.95 214.45,185.22 214.80,185.01 215.15,185.10 215.50,184.49 215.85,185.02 216.20,185.15 216.55,185.25 216.60,185.08 216.90,184.68 217.25,184.19 217.60,183.54 217.95,182.71 218.20,181.50 218.30,182.20 218.65,183.22 219.00,183.93 219.35,184.52 219.70,185.04 219.80,185.22 220.05,185.40 220.40,185.29 220.75,185.59 221.10,185.60 221.45,185.64 221.80,185.69 222.15,185.56 222.50,185.69 222.85,185.34 223.20,185.72 223.55,185.81 223.90,185.55 224.25,185.54 224.60,185.73 224.95,185.86 225.30,185.75 225.65,185.70 226.00,185.55 226.35,185.40 226.70,185.50 227.05,185.56 227.40,185.55 227.75,185.67 228.10,185.74 228.45,185.66 228.80,185.60 229.15,185.69 229.50,185.66 229.85,185.70 230.20,185.63 230.55,185.42 230.90,185.85 231.25,185.37 231.60,185.83 231.95,185.56 232.30,185.86 232.65,185.73 233.00,185.50 233.35,185.75 233.70,185.70 234.05,185.60 234.40,185.68 234.75,185.74 235.10,185.85 235.45,185.73 235.80,185.50 236.15,185.55 236.50,185.68 236.85,185.90 237.20,185.77 237.55,185.60 237.90,185.75 238.25,185.73 238.60,185.70 238.95,185.62 239.30,185.37 239.65,185.74 240.00,185.79 240.35,185.62 240.70,185.59 241.05,185.72 241.40,185.87 241.75,185.63 242.10,185.54 242.45,185.77 242.80,185.53 243.15,185.44 243.50,185.56 243.85,185.68 244.20,185.55 244.55,185.53 244.90,185.64 245.25,185.60 245.60,185.70 245.95,185.70 246.30,185.83 246.65,185.90 247.00,185.92 247.35,185.72 247.70,185.12 248.05,185.50 248.40,185.71 248.75,185.66 249.10,185.40 249.45,185.96 249.80,185.83 250.15,185.68 250.50,185.71 250.85,185.52 251.20,185.60 251.55,185.68 251.90,185.53 252.25,185.22 252.60,185.51 252.95,185.42 253.30,185.34 253.65,185.57 254.00,185.13 254.35,185.52 254.70,185.36 255.05,185.25 255.40,185.39 255.75,185.58 256.10,185.30 256.45,185.18 256.80,185.08 257.15,185.64 257.50,185.03 257.85,185.05 258.20,184.95 258.55,184.80 258.90,185.01 259.25,185.16 259.60,184.96 259.95,185.13 260.30,184.61 260.65,185.37 261.00,184.91 261.35,184.87 261.70,184.72 262.05,184.91 262.40,184.78 262.75,184.81 263.10,184.88 263.45,185.01 263.80,184.66 264.15,184.73 264.50,184.45 264.85,184.73 265.20,184.34 265.55,184.26 265.90,184.20 266.25,183.70 266.60,183.31 266.95,184.11 267.30,183.93 267.65,183.77 268.00,184.05 268.35,184.07 268.70,184.03 269.05,184.00 269.40,183.89 269.75,183.09 270.10,183.71 270.45,182.66 270.80,182.87 271.15,183.51 271.50,182.89 271.85,182.32 272.20,183.34 272.55,182.41 272.90,182.83 273.25,182.94 273.60,182.62 273.95,183.15 274.30,181.44 274.65,182.48 275.00,181.63 275.10,179.46 275.35,179.00 275.60,175.60 275.70,177.56 276.05,180.26 276.10,180.10 276.40,181.93 276.75,179.32 277.00,179.97 277.10,178.79 277.45,172.88 277.50,170.50 277.80,177.08 278.00,178.34 278.15,176.12 278.50,181.18 278.85,181.56 279.20,179.17 279.55,172.04 279.70,165.30 279.90,173.31 280.20,179.17 280.25,181.21 280.60,175.38 280.95,179.43 281.30,174.65 281.65,183.08 282.00,180.98 282.35,172.86 282.60,159.20 282.70,167.08 283.05,178.64 283.20,182.30 283.40,185.10 283.75,184.95 284.10,185.18 284.45,185.45 284.80,185.14 285.15,185.34 285.50,185.00 285.85,185.35 286.20,185.63 286.55,185.03 286.90,185.54 287.25,185.39 287.60,184.92 287.95,185.13 288.30,185.12 288.65,185.54 289.00,185.20 289.35,185.40 289.70,185.59 290.05,185.50 290.40,185.46 290.75,185.47 291.10,185.52 291.45,185.32 291.80,185.71 292.15,185.41 292.50,185.40 292.70,185.52 292.85,183.77 293.20,176.40 293.55,183.77 293.70,185.42 293.90,185.48 294.25,185.73 294.60,185.55 294.90,185.58 294.95,185.46 295.30,184.06 295.40,183.10 295.65,184.76 295.90,185.45 296.00,185.60 296.35,185.59 296.70,185.75 297.05,185.89 297.40,185.69 297.75,185.78 298.10,185.72 298.45,185.79 298.80,185.78 299.15,183.43 299.30,181.20 299.50,183.85 299.80,185.59 299.85,185.69 300.00,185.84 300.20,183.77 300.50,178.00 300.55,179.97 300.90,184.85 301.00,185.76 301.25,186.18 301.60,186.13 301.95,185.78 302.30,186.12 302.65,186.08 303.00,185.65 303.35,186.33 303.70,185.68 304.05,185.91 304.40,185.84 304.75,186.00 305.10,185.67 305.45,185.93 305.80,186.00 306.15,185.93 306.50,185.83 306.85,186.17 307.20,185.76 307.55,186.01 307.90,185.89 308.25,185.94 308.60,185.84 308.95,185.84 309.30,185.93 309.65,185.88 310.00,185.75 310.35,185.98 310.70,185.80 311.05,185.68 311.40,185.83 311.75,185.73 312.10,185.89 312.45,185.89 312.80,185.84 313.15,185.79 313.50,185.82 313.85,185.72 314.20,185.50 314.55,185.87 314.90,185.68 315.25,185.72 315.60,185.72 315.95,185.95 316.30,185.66 316.65,185.93 317.00,185.75 317.35,185.66 317.70,185.60 318.05,186.07 318.40,186.06 318.75,185.99 319.10,186.21 319.45,185.87 319.80,185.97 320.15,185.84 320.50,185.97 320.85,185.82 321.20,185.69 321.55,186.13 321.90,185.65 322.25,185.94 322.60,185.96 322.95,185.96 323.30,185.76 323.65,185.78 324.00,185.76 324.35,185.78 324.70,185.86 325.05,185.75 325.40,185.85 325.75,185.93 326.10,185.68 326.45,185.89 326.80,185.89 327.15,185.88 327.50,185.81 327.85,185.99 328.20,185.73 328.55,185.87 328.90,185.75 329.25,185.88 329.60,185.96 329.95,185.99 330.30,185.87 330.65,185.99 331.00,185.59 331.35,185.66 331.70,185.82 332.05,185.85 332.40,185.61 332.75,185.64 333.10,185.91 333.45,185.74 333.80,185.58 334.15,186.19 334.50,185.85 334.85,185.90 335.20,186.03 335.55,185.76 335.90,186.12 336.25,185.61 336.60,185.64 336.95,185.92 337.30,185.86 337.65,186.06 338.00,185.62 338.35,185.83 338.70,186.02 339.05,186.08 339.40,186.10 339.75,185.99 340.10,186.28 340.45,185.88 340.80,185.93 341.15,185.98 341.50,185.83 341.85,185.79 342.20,185.69 342.55,185.56 342.90,185.46 343.25,185.61 343.60,185.50 343.95,185.73 344.30,185.33 344.65,185.91 345.00,185.80 345.35,185.66 345.70,185.45 346.05,185.33 346.30,185.49 346.40,185.24 346.75,184.00 346.80,183.50 347.10,184.96 347.30,185.40 347.45,185.57 347.80,185.21 348.15,185.42 348.50,185.58 348.85,185.40 349.20,185.28 349.50,185.43 349.55,185.28 349.90,183.92 350.00,183.00 350.25,184.60 350.50,185.43 350.60,185.12 350.95,185.22 351.30,185.57 351.65,185.13 352.00,185.21 352.35,185.51 352.70,185.33 353.05,185.42 353.40,185.29 353.70,185.35 353.75,185.20 354.10,183.89 354.20,183.00 354.45,184.55 354.70,185.35 354.80,185.23 355.15,185.62 355.50,184.97 355.85,185.52 356.10,185.30 356.20,183.66 356.55,175.49 356.60,172.20 356.90,181.84 357.10,185.30 357.25,185.77 357.60,185.99 357.95,186.07 358.30,186.24 358.65,186.32 359.00,186.15 359.35,186.06 359.70,186.03 360.05,186.40 360.40,186.41 360.75,185.99 361.10,186.06 361.45,186.43 361.80,186.04 362.15,186.21 362.50,186.00 362.85,185.98 363.20,186.28 363.55,186.23 363.90,186.54 364.25,186.65 364.60,186.30 364.95,186.42 365.30,186.30 365.65,186.23 366.00,186.10 366.35,186.54 366.70,186.28 367.05,186.18 367.40,186.28 367.75,186.31 368.10,186.10 368.45,186.42 368.80,186.51 369.15,186.12 369.50,186.12 369.85,186.21 370.20,186.08 370.55,186.16 370.90,186.49 371.25,186.65 371.40,186.25 371.60,186.04 371.95,185.61 372.30,184.95 372.40,184.50 372.65,185.28 373.00,185.82 373.35,186.05 373.40,185.99 373.70,186.37 374.05,186.23 374.40,186.23 374.75,186.42 375.10,186.31 375.45,186.03 375.80,186.34 376.15,186.22 376.50,186.13 376.85,186.03 377.20,186.28 377.55,186.15 377.90,186.39 378.25,186.33 378.60,186.43 378.95,186.28 379.30,186.19 379.65,186.09 380.00,186.08 380.35,186.51 380.70,186.73 381.05,186.07 381.40,186.25 381.75,186.32 382.10,186.38 382.45,186.22 382.80,186.41 383.15,186.14 383.50,186.36 383.85,186.50 384.20,186.57 384.55,186.29 384.90,186.28 385.25,186.46 385.60,186.56 385.95,186.39 386.30,186.16 386.65,186.48 387.00,186.53 387.35,186.31 387.70,186.08 388.05,186.55 388.40,186.36 388.75,186.47 389.10,186.43 389.45,186.26 389.80,186.35 390.15,186.21 390.50,186.26 390.85,186.21 391.20,186.31 391.55,186.47 391.90,186.16 392.25,186.37 392.60,186.17 392.95,186.63 393.30,186.29 393.65,186.18 394.00,186.38 394.35,186.31 394.70,186.22 395.05,186.45 395.40,186.42 395.75,186.49 396.10,186.41 396.45,186.33 396.80,186.31 397.15,186.08 397.50,186.46 397.85,186.36 398.20,186.44 398.55,186.20 398.90,186.17 399.25,186.01 399.60,186.42 399.95,186.49 400.30,186.11 400.65,186.30 401.00,186.21 401.35,184.51 401.50,182.90 401.70,184.81 402.00,186.21 402.05,186.16 402.40,186.12 402.75,185.85 403.10,186.19 403.45,186.23 403.80,186.16 404.15,186.11 404.50,186.22 404.85,185.95 405.20,186.11 405.55,183.91 405.70,181.80 405.90,184.30 406.20,186.12 406.25,186.09 406.60,186.07 406.95,186.14 407.30,186.05 407.65,186.00 408.00,185.91 408.35,186.22 408.70,186.21 409.05,186.19 409.40,186.01 409.75,186.17 410.10,186.22 410.45,186.14 410.80,186.13 411.15,186.13 411.50,186.35 411.85,185.78 412.20,186.21 412.55,186.04 412.90,186.01 413.25,186.20 413.60,186.16 413.95,185.94 414.30,186.01 414.65,186.07 415.00,185.73 415.35,186.13 415.70,185.91 416.05,186.00 416.40,186.04 416.75,186.29 417.10,186.00 417.45,185.80 417.80,186.20 418.15,185.89 418.50,185.90 418.85,185.63 419.20,186.03 419.55,185.90 419.90,185.91 420.25,185.95 420.60,185.78 420.95,185.79 421.30,185.65 421.65,185.87 422.00,185.73 422.35,186.01 422.70,185.60 423.05,185.55 423.40,185.39 423.75,185.84 424.10,185.46 424.45,185.74 424.80,185.70 425.15,185.40 425.50,185.67 425.85,185.16 426.20,185.42 426.55,185.05 426.90,185.46 427.25,185.42 427.60,185.14 427.95,185.32 428.30,185.25 428.65,185.22 429.00,185.14 429.35,184.95 429.70,185.04 430.05,185.38 430.40,185.07 430.75,185.13 431.10,184.90 431.45,185.12 431.80,185.01 432.15,184.82 432.50,184.57 432.85,184.75 433.20,185.03 433.55,184.85 433.90,184.98 434.25,184.78 434.60,184.46 434.95,184.74 435.30,184.68 435.65,184.51 436.00,184.64 436.35,184.70 436.70,184.57 437.05,184.61 437.40,184.43 437.75,184.12 438.10,184.48 438.45,184.44 438.80,184.24 439.15,184.39 439.50,184.26 439.85,184.48 440.20,184.50 440.55,184.26 440.90,183.82 441.25,184.09 441.60,184.19 441.95,184.11 442.30,184.00 442.65,183.91 443.00,183.59 443.35,183.55 443.70,183.65 444.05,183.41 444.40,183.52 444.75,183.04 445.10,183.23 445.45,183.23 445.80,182.90 446.15,182.29 446.50,183.56 446.85,182.61 447.20,183.46 447.55,183.07 447.90,182.15 448.25,182.31 448.60,182.87 448.95,182.40 449.30,182.22 449.65,182.43 450.00,182.14 450.35,182.43 450.70,182.51 451.05,182.53 451.40,182.32 451.75,181.76 452.10,181.96 452.45,181.57 452.80,182.24 453.15,182.22 453.50,182.25 453.85,181.82 454.20,182.00 454.55,181.50 454.90,181.33 455.25,182.20 455.60,181.94 455.95,181.96 456.30,181.75 456.65,181.46 457.00,181.50 457.35,182.11 457.40,181.80 457.70,180.45 457.90,178.60 458.05,180.15 458.40,181.68 458.75,181.38 459.10,181.62 459.45,181.82 459.80,181.78 460.15,181.74 460.50,182.26 460.85,181.56 460.90,181.38 461.20,179.64 461.40,176.70 461.55,179.18 461.90,181.22 462.25,181.38 462.60,181.39 462.95,181.55 463.30,181.12 463.65,181.39 464.00,181.79 464.35,181.33 464.70,181.14 465.05,182.20 465.40,181.97 465.50,181.80 465.75,180.27 466.00,177.30 466.10,179.01 466.45,181.52 466.50,181.80 466.80,184.87 467.15,185.69 467.50,185.72 467.85,185.45 468.20,185.83 468.55,185.61 468.90,185.53 469.25,185.58 469.60,185.41 469.95,185.60 470.30,185.53 470.65,185.75 471.00,185.44 471.35,185.53 471.70,185.47 472.05,185.57 472.40,185.68 472.75,185.76 473.10,185.61 473.45,185.56 473.80,185.51 474.15,185.61 474.50,185.43 474.85,185.29 475.20,185.78 475.55,185.46 475.90,185.85 476.25,185.31 476.60,185.51 476.95,185.34 477.30,185.47 477.65,185.45 478.00,185.47 478.35,185.55 478.70,185.32 479.05,185.52 479.40,185.77 479.75,185.26 480.10,185.55 480.45,185.43 480.80,185.50 481.15,185.60 481.50,185.04 481.85,185.16 482.00,185.20 482.20,180.76 482.50,168.00 482.55,172.35 482.90,183.16 483.00,185.33 483.25,185.38 483.60,185.32 483.95,185.25 484.30,185.62 484.65,185.41 485.00,185.32 485.35,185.36 485.70,184.91 486.05,185.06 486.40,185.27 486.75,185.17 487.10,184.90 487.45,185.06 487.80,185.07 488.15,184.99 488.50,185.27 488.85,184.96 489.20,185.20 489.55,184.99 489.90,184.80 490.25,185.19 490.60,184.84 490.95,185.04 491.30,185.03 491.65,184.88 492.00,185.11 492.35,185.00 492.70,184.75 493.05,184.83 493.40,185.05 493.75,185.15 494.10,184.58 494.45,185.06 494.80,184.60 495.15,184.99 495.50,184.95 495.85,184.52 496.20,185.09 496.55,184.83 496.90,184.81 497.25,184.70 497.60,184.70 497.95,184.49 498.30,185.00 498.65,185.08 499.00,184.75 499.35,184.82 499.70,184.77 500.05,184.52 500.40,184.31 500.75,184.39 501.10,184.46 501.45,184.27 501.80,184.30 502.15,184.38 502.50,184.10 502.85,184.80 503.20,184.15 503.55,184.51 503.90,184.22 504.25,184.35 504.60,184.42 504.95,184.35 505.30,184.72 505.65,184.20 506.00,184.23 506.35,184.31 506.70,184.77 507.05,183.89 507.40,184.32 507.75,184.88 508.10,184.16 508.45,184.01 508.80,184.56 509.15,184.10 509.50,184.58 509.85,184.60 510.20,184.19 510.55,184.45 510.90,183.73 511.25,183.61 511.60,183.30 511.95,184.47 512.30,183.70 512.65,184.09 513.00,184.26 513.35,183.76 513.70,184.38 514.05,184.46 514.40,183.25 514.75,184.03 515.10,183.29 515.45,183.95 515.80,184.16 516.15,183.87 516.50,184.24 516.85,184.21 517.20,184.57 517.55,184.18 517.90,184.28 518.25,183.75 518.60,183.23 518.95,183.24 519.30,183.36 519.65,183.95 520.00,183.26 520.35,183.50 520.70,183.60 521.05,183.88 521.40,183.86 521.75,183.52 522.10,183.87 522.45,183.01 522.80,183.24 523.15,183.00 523.50,182.51 523.85,182.90 524.20,183.87 524.55,183.58 524.90,182.12 525.25,183.79 525.60,183.76 525.95,182.83 526.30,182.36 526.65,182.23 527.00,182.38 527.35,182.52 527.70,183.02 528.05,183.55 528.40,182.47 528.75,183.78 529.10,181.88 529.45,183.62 529.80,183.78 530.15,181.32 530.50,183.30 530.85,182.31 531.20,183.59 531.55,181.40 531.90,183.36 532.25,181.71 532.60,181.64 532.95,182.81 533.30,183.54 533.65,183.43 534.00,183.52 534.35,181.31 534.70,182.19 535.05,180.89 535.40,181.74 535.75,181.87 536.10,182.46 536.45,182.61 536.80,180.35 537.15,180.35 537.50,181.78 537.85,180.53 538.20,180.69 538.55,182.16 538.90,182.36 539.25,180.45 539.60,179.59 539.95,180.01 540.30,181.69 540.65,182.44 541.00,181.38 541.35,182.18 541.70,179.29 542.05,181.25 542.40,179.79 542.75,181.50 543.10,179.08 543.45,180.39 543.80,179.17 544.15,179.92 544.50,179.43 544.85,181.72 545.20,181.61 545.55,180.68 545.90,178.79 546.25,178.89 546.60,179.36 546.95,179.65 547.30,181.67 547.65,178.95 548.00,179.56 548.35,179.81 548.70,179.05 549.05,181.10 549.40,179.88 549.75,179.55 550.10,179.44 550.30,181.60 550.45,179.18 550.80,175.75 550.90,173.40 551.15,177.46 551.50,179.05 551.85,181.54 552.20,180.88 552.55,179.36 552.90,179.83 553.25,180.72 553.60,179.48 553.95,179.82 554.30,181.40 554.65,180.93 555.00,179.49 555.35,179.38 555.70,181.00 556.05,180.10 556.40,179.22 556.75,180.18 557.10,180.51 557.45,179.62 557.80,178.20 558.00,178.66 558.15,177.41 558.50,165.87 558.60,158.00 558.85,171.64 559.20,184.82 559.55,184.80 559.90,185.18 560.25,185.05 560.60,184.91 560.95,184.81 561.30,184.62 561.65,184.75 562.00,184.71 562.35,184.75 562.70,184.54 563.05,184.58 563.40,184.81 563.75,184.76 564.10,184.38 564.45,184.71 564.80,184.85 565.15,184.68 565.50,184.81 565.85,184.58 566.20,184.77 566.55,184.48 566.90,184.56 567.25,184.70 567.60,185.15 567.95,184.53 568.30,184.49 568.65,184.68 569.00,184.72 569.35,184.95 569.70,184.46 570.05,184.38 570.40,184.57 570.75,184.79 571.10,184.74 571.45,184.75 571.80,184.47 572.15,184.49 572.50,184.66 572.85,184.72 573.20,184.85 573.55,184.73 573.90,184.62 574.25,184.81 574.60,184.83 574.95,184.95 575.30,184.51 575.65,184.98 576.00,184.39 576.35,184.57 576.70,184.46 577.05,184.61 577.40,184.44 577.75,184.68 578.10,184.63 578.45,184.61 578.80,184.79 579.15,184.66 579.50,184.64 579.85,184.84 580.10,184.61 580.20,184.53 580.55,184.19 580.90,183.74 581.10,183.20 581.25,183.65 581.60,184.13 581.95,184.48 582.10,184.61 582.30,184.57 582.65,184.43 583.00,184.52 583.35,184.72 583.70,184.70 584.05,184.58 584.40,184.66 584.75,184.86 585.10,184.35 585.45,184.71 585.80,184.82 586.15,184.35 586.50,184.55 586.85,184.57 587.20,184.44 587.55,184.36 587.90,184.31 588.25,184.52 588.60,184.56 588.95,184.68 589.30,184.48 589.65,184.46 590.00,184.61 590.35,184.29 590.70,184.20 590.80,184.52 591.05,182.65 591.40,179.79 591.75,176.49 592.10,172.34 592.40,165.30 592.45,167.70 592.80,173.66 593.15,177.50 593.50,180.65 593.85,183.41 594.00,184.02 594.20,184.83 594.55,184.54 594.90,184.07 595.25,184.47 595.60,184.65 595.95,184.60 596.30,184.69 596.65,184.37 597.00,184.42 597.35,184.49 597.70,184.56 598.05,184.48 598.40,184.37 598.75,184.34 599.10,184.69 599.45,184.41 599.80,184.65 600.15,184.68 600.50,184.38 600.85,184.45 601.20,184.35 601.55,184.29 601.90,184.40 602.25,184.35 602.60,184.24 602.95,184.48 603.30,184.42 603.65,184.43 604.00,184.20 604.35,184.44 604.70,184.50 605.05,184.32 605.40,184.50 605.75,184.15 606.10,184.31 606.45,184.27 606.80,184.45 607.15,184.29 607.50,183.98 607.85,184.33 608.20,184.05 608.55,184.28 608.90,184.38 609.25,183.92 609.60,184.20 609.95,184.01 610.30,184.08 610.65,184.11 611.00,184.15 611.35,183.79 611.70,184.27 612.05,184.09 612.40,184.04 612.75,184.11 613.10,184.09 613.45,183.68 613.80,184.18 614.15,184.09 614.50,184.08 614.85,184.07 615.20,184.11 615.55,184.28 615.90,184.33 616.25,184.07 616.60,184.21 616.95,183.90 617.30,183.94 617.65,183.98 618.00,184.01 618.35,184.06 618.70,183.75 619.05,184.15 619.40,184.09 619.75,183.83 620.10,184.08 620.45,184.23 620.80,183.81 621.15,184.23 621.50,183.99 621.85,183.74 622.20,183.78 622.55,183.92 622.90,184.02 623.25,183.96 623.60,183.54 623.95,183.67 624.30,183.91 624.65,183.85 625.00,183.92 625.35,183.59 625.70,183.82 626.05,183.64 626.40,184.09 626.75,183.48 627.10,183.88 627.45,183.76 627.80,184.01 628.15,183.58 628.50,183.57 628.85,183.73 629.20,183.70 629.55,183.88 629.90,183.76 630.25,183.89 630.60,183.93 630.95,183.90 631.30,183.73 631.65,183.88 632.00,183.79 632.35,183.96 632.70,183.66 633.05,183.66 633.40,183.28 633.75,183.73 634.10,183.58 634.45,183.90 634.80,183.80 635.15,183.84 635.50,183.57 635.85,183.32 636.20,183.52 636.55,183.45 636.90,183.43 637.25,183.12 637.60,183.61 637.95,183.31 638.30,183.30 638.65,183.56 639.00,183.35 639.35,183.83 639.70,183.50 640.05,183.49 640.40,183.17 640.75,183.43 641.10,183.67 641.45,183.30 641.80,183.64 642.15,183.51 642.50,183.26 642.85,183.56 643.20,183.39 643.55,183.79 643.90,183.26 644.25,183.17 644.60,183.74 644.95,183.06 645.30,183.53 645.65,183.24 646.00,183.39 646.35,183.60 646.70,183.41 647.05,183.39 647.40,183.49 647.75,183.09 648.10,183.76 648.40,183.32 648.45,183.23 648.80,181.78 648.90,180.80 649.15,182.50 649.40,183.38 649.50,183.35 649.85,183.37 650.20,183.17 650.55,183.09 650.90,183.40 651.25,183.52 651.60,183.47 651.95,183.55 652.30,183.08 652.65,183.52 653.00,183.43 653.35,183.16 653.70,183.44 654.05,183.08 654.40,183.33 654.75,183.02 655.10,183.18 655.45,182.81 655.80,183.41 656.15,183.43 656.50,183.57 656.85,183.22 657.20,183.24 657.55,183.18 657.90,183.47 658.25,183.48 658.60,183.05 658.95,183.08 659.30,183.30 659.65,182.32 659.80,181.40 660.00,182.50 660.30,183.30 660.35,184.07 660.70,185.13 661.05,185.74 661.40,186.06 661.75,185.69 662.10,185.95 662.45,185.70 662.80,185.85 663.15,186.13 663.50,186.01 663.85,185.80 664.20,185.90 664.55,185.74 664.90,185.71 665.25,185.72 665.60,185.86 665.95,185.92 666.30,185.61 666.65,185.93 667.00,185.87 667.35,185.93 667.70,185.61 668.05,186.03 668.40,185.70 668.75,185.91 669.10,185.98 669.45,185.54 669.80,185.86 670.15,185.88 670.50,185.92 670.85,185.74 671.20,185.67 671.55,185.51 671.90,185.87 672.25,185.79 672.60,185.79 672.95,185.61 673.30,185.81" fill="none" stroke="#000000" stroke-width="1.7" stroke-linejoin="round"/>
<polyline points="685.50,184.92 685.85,184.65 686.20,185.02 686.55,184.88 686.90,184.90 687.25,184.67 687.60,184.78 687.95,184.92 688.30,184.88 688.65,184.91 689.00,184.77 689.35,184.74 689.70,185.06 690.05,184.56 690.40,184.78 690.75,184.76 691.10,184.63 691.45,184.59 691.80,184.63 692.15,184.61 692.50,184.73 692.85,184.85 693.20,184.97 693.55,184.90 693.90,184.46 694.25,184.94 694.60,184.72 694.95,184.87 695.30,184.72 695.65,184.74 696.00,184.70 696.35,185.03 696.70,184.44 697.05,184.78 697.40,184.72 697.75,184.67 698.10,184.58 698.45,184.86 698.80,184.57 699.15,184.59 699.50,184.77 699.85,184.65 700.20,184.52 700.55,184.76 700.90,184.56 701.25,184.76 701.60,184.54 701.95,184.80 702.30,184.88 702.65,184.70 703.00,185.10 703.35,184.61 703.70,184.65 704.05,184.69 704.40,184.46 704.75,184.51 705.10,184.74 705.45,184.96 705.80,184.99 706.15,184.76 706.50,184.51 706.70,184.77 706.85,183.71 707.20,178.30 707.55,183.71 707.70,184.57 707.90,184.79 708.25,184.65 708.60,185.02 708.95,185.12 709.30,185.07 709.65,184.79 710.00,184.82 710.35,184.63 710.70,184.50 710.80,184.57 711.05,181.56 711.30,174.90 711.40,178.75 711.75,184.38 711.80,184.85 712.10,184.34 712.45,184.79 712.80,185.09 713.15,184.57 713.50,184.88 713.85,184.93 714.20,184.40 714.55,184.78 714.90,184.42 715.25,184.40 715.60,184.87 715.95,184.39 716.30,184.81 716.65,185.04 717.00,184.76 717.35,185.07 717.70,184.60 718.05,184.75 718.40,184.60 718.75,184.79 719.10,184.54 719.45,184.62 719.80,184.74 720.15,184.56 720.50,185.03 720.85,184.64 721.20,184.65 721.55,184.99 721.90,184.59 722.25,184.51 722.60,184.98 722.95,184.94 723.30,184.66 723.65,184.93 724.00,184.84 724.35,184.48 724.70,184.64 725.05,184.91 725.40,184.75 725.75,184.75 726.10,184.70 726.45,185.06 726.80,184.55 727.15,184.82 727.50,184.84 727.85,184.67 728.20,184.61 728.55,184.86 728.90,184.44 729.25,184.71 729.60,184.81 729.95,184.67 730.30,184.98 730.65,184.87 731.00,184.36 731.35,184.79 731.70,184.73 732.05,184.90 732.40,184.75 732.75,184.97 733.10,184.86 733.45,184.77 733.80,184.65 734.15,184.76 734.50,184.61 734.85,184.82 735.20,184.66 735.55,184.88 735.90,184.58 736.25,184.47 736.60,184.74 736.95,184.71 737.30,184.60 737.65,184.63 738.00,184.61 738.35,184.93 738.40,184.62 738.70,182.59 738.90,179.30 739.05,182.07 739.40,184.89 739.75,184.62 740.10,184.72 740.45,184.99 740.50,185.00 740.80,183.31 741.00,181.00 741.15,182.94 741.50,184.92 741.85,185.02 742.20,184.88 742.55,184.77 742.90,184.55 743.00,184.83" fill="none" stroke="#000000" stroke-width="1.7" stroke-linejoin="round"/>
<polyline points="93.00,273.56 93.35,273.71 93.70,273.61 94.05,273.44 94.40,273.51 94.75,273.93 95.10,273.59 95.45,273.89 95.80,273.66 96.15,273.92 96.50,273.44 96.85,273.68 97.20,273.72 97.55,273.58 97.90,273.75 98.25,273.44 98.60,273.63 98.95,273.54 99.30,273.82 99.65,273.64 100.00,273.40 100.35,273.62 100.70,273.73 101.05,273.53 101.40,273.79 101.75,273.73 102.10,273.69 102.45,273.54 102.80,273.53 103.15,273.91 103.50,273.43 103.85,273.72 104.20,273.72 104.55,273.52 104.90,273.78 105.25,273.53 105.60,273.76 105.95,273.41 106.30,273.44 106.65,273.96 107.00,273.67 107.35,273.48 107.70,273.91 108.05,273.49 108.40,273.10 108.75,273.63 109.10,273.86 109.45,273.76 109.80,273.95 110.15,273.63 110.50,273.91 110.85,273.63 111.20,273.72 111.55,274.02 111.90,273.70 112.25,273.84 112.60,273.33 112.95,273.73 113.30,273.61 113.65,273.86 114.00,273.60 114.35,273.69 114.70,273.60 115.05,273.93 115.40,273.49 115.75,273.66 116.10,274.17 116.45,273.79 116.80,273.73 117.15,273.87 117.50,273.93 117.85,273.97 118.20,273.40 118.55,273.84 118.90,273.53 119.25,274.13 119.60,273.88 119.95,273.65 120.30,273.87 120.65,273.84 121.00,273.62 121.35,273.92 121.70,273.77 122.05,273.53 122.40,273.95 122.75,273.92 123.10,273.90 123.45,273.79 123.80,273.73 124.15,273.84 124.50,274.00 124.85,273.96 125.20,273.97 125.55,273.59 125.90,273.90 126.25,273.90 126.60,273.52 126.95,273.49 127.30,273.65 127.65,273.92 128.00,273.95 128.35,273.87 128.70,273.82 129.05,273.91 129.40,273.83 129.75,273.82 130.10,273.80 130.45,273.93 130.80,273.83 131.15,273.85 131.50,273.88 131.85,273.87 132.20,274.18 132.55,273.88 132.90,274.00 133.25,273.70 133.60,273.87 133.95,273.83 134.30,273.76 134.65,273.77 135.00,273.70 135.35,273.76 135.70,273.93 136.05,273.86 136.40,274.01 136.75,273.94 137.10,273.62 137.45,273.81 137.80,273.71 138.15,273.61 138.50,273.94 138.85,273.91 139.20,273.72 139.55,273.77 139.90,273.81 140.25,273.64 140.60,273.99 140.95,273.79 141.30,274.18 141.65,273.78 142.00,274.10 142.35,273.81 142.70,274.07 143.05,273.69 143.40,273.94 143.75,273.76 144.10,273.69 144.45,273.90 144.80,273.99 145.15,273.87 145.50,274.20 145.85,273.97 146.20,273.49 146.55,273.79 146.90,273.55 147.25,273.79 147.60,274.05 147.95,273.80 148.30,273.61 148.65,273.82 149.00,273.85 149.35,274.09 149.70,274.04 150.05,273.98 150.40,274.13 150.75,273.77 151.10,273.96 151.45,273.84 151.80,273.82 152.15,273.96 152.50,274.17 152.85,273.81 153.10,273.71 153.20,273.71 153.55,272.85 153.60,272.50 153.90,273.52 154.10,273.62 154.25,273.54 154.60,274.07 154.95,273.65 155.30,274.03 155.65,273.63 156.00,274.05 156.35,274.06 156.70,273.88 157.00,273.88 157.05,273.70 157.40,272.03 157.50,270.90 157.75,272.87 158.00,273.81 158.10,273.83 158.45,273.91 158.80,273.87 159.15,273.83 159.50,273.80 159.85,273.91 160.20,273.99 160.55,273.99 160.90,274.00 161.25,273.88 161.60,273.82 161.95,274.11 162.30,273.90 162.65,274.03 163.00,273.86 163.35,273.93 163.70,274.06 164.05,274.01 164.40,273.82 164.75,273.64 165.10,273.89 165.45,273.81 165.80,273.73 166.15,271.06 166.30,268.40 166.50,271.56 166.80,273.88 166.85,273.91 167.20,274.08 167.55,273.82 167.90,273.64 168.25,274.04 168.60,273.76 168.95,274.12 169.30,273.86 169.65,273.86 170.00,273.85 170.35,273.76 170.70,273.87 171.05,273.83 171.40,273.88 171.75,273.87 172.10,273.97 172.45,273.68 172.80,273.68 173.15,274.01 173.50,273.97 173.85,273.79 174.20,273.93 174.55,273.71 174.90,274.30 175.25,273.72 175.60,274.23 175.95,273.71 176.30,274.01 176.65,273.95 177.00,273.75 177.35,274.04 177.70,273.93 178.05,273.89 178.40,273.79 178.75,274.18 179.10,274.21 179.45,273.79 179.80,273.93 180.15,273.82 180.50,273.86 180.85,274.00 181.20,273.81 181.55,273.79 181.90,273.76 182.25,274.10 182.60,274.23 182.95,273.96 183.30,273.87 183.65,273.97 184.00,273.86 184.35,273.69 184.70,273.99 185.05,273.96 185.40,273.86 185.75,274.09 186.10,273.96 186.45,273.55 186.80,273.96 187.15,273.87 187.50,274.25 187.85,273.76 188.20,273.96 188.55,273.89 188.90,273.88 189.25,273.71 189.60,273.78 189.95,273.96 190.30,274.14 190.65,274.26 191.00,273.64 191.35,273.66 191.70,273.63 192.05,273.61 192.40,273.81 192.75,273.76 193.10,273.95 193.45,273.50 193.80,273.49 194.15,273.48 194.50,274.00 194.85,273.94 195.20,273.46 195.55,273.46 195.90,273.70 196.25,273.75 196.60,273.81 196.95,273.54 197.30,273.73 197.65,273.64 198.00,273.50 198.35,273.73 198.70,273.50 199.05,273.23 199.40,273.57 199.75,273.14 200.10,273.56 200.45,273.52 200.80,273.38 201.15,273.51 201.50,273.70 201.85,273.41 202.20,273.25 202.55,273.28 202.90,273.41 203.25,273.25 203.60,273.11 203.95,273.32 204.30,273.41 204.65,273.47 205.00,273.19 205.35,273.63 205.70,273.42 206.05,273.26 206.40,273.10 206.75,273.40 207.10,273.25 207.45,273.40 207.80,273.23 208.15,272.88 208.50,273.01 208.85,273.37 209.20,273.13 209.55,273.17 209.90,273.03 210.25,273.04 210.60,272.87 210.95,273.05 211.30,273.04 211.65,273.04 212.00,273.02 212.35,272.89 212.70,272.95 213.05,273.08 213.40,272.97 213.75,273.07 214.10,273.16 214.45,273.06 214.80,273.03 215.15,272.90 215.50,273.07 215.85,272.88 216.20,272.79 216.55,273.12 216.60,272.95 216.90,272.69 217.25,272.18 217.60,271.58 217.95,270.81 218.20,269.70 218.30,270.34 218.65,271.28 219.00,271.94 219.35,272.48 219.70,272.90 219.80,273.30 220.05,272.93 220.40,273.28 220.75,273.49 221.10,272.85 221.45,273.13 221.80,273.50 222.15,273.48 222.50,273.29 222.85,273.55 223.20,273.45 223.55,273.54 223.90,273.51 224.25,273.59 224.60,273.11 224.95,273.40 225.30,273.38 225.65,273.21 226.00,273.27 226.35,273.44 226.70,273.29 227.05,273.60 227.40,273.44 227.75,273.32 228.10,273.39 228.45,273.28 228.80,273.70 229.15,273.51 229.50,273.63 229.85,273.60 230.20,273.16 230.55,273.42 230.90,273.22 231.25,273.17 231.60,273.10 231.95,273.54 232.30,273.07 232.65,273.32 233.00,273.51 233.35,273.58 233.70,273.05 234.05,273.47 234.40,273.19 234.75,273.53 235.10,273.44 235.45,273.33 235.80,273.28 236.15,273.63 236.50,273.04 236.85,273.30 237.20,273.45 237.55,273.10 237.90,273.44 238.25,273.10 238.60,273.44 238.95,273.27 239.30,273.50 239.65,273.62 240.00,273.43 240.35,273.24 240.70,273.48 241.05,273.32 241.40,273.40 241.75,273.58 242.10,273.42 242.45,273.59 242.80,273.36 243.15,273.49 243.50,273.69 243.85,273.57 244.20,273.34 244.55,273.35 244.90,273.36 245.25,273.38 245.60,273.32 245.95,273.60 246.30,273.34 246.65,273.50 247.00,273.38 247.35,273.50 247.70,273.55 248.05,273.23 248.40,273.57 248.75,273.36 249.10,273.37 249.45,273.39 249.80,273.68 250.15,273.29 250.50,273.54 250.85,273.07 251.20,273.43 251.55,273.38 251.90,273.40 252.25,272.92 252.60,272.96 252.95,273.15 253.30,272.79 253.65,273.31 254.00,273.17 254.35,272.88 254.70,273.56 255.05,272.93 255.40,272.92 255.75,272.70 256.10,272.78 256.45,273.02 256.80,272.65 257.15,272.65 257.50,272.75 257.85,272.40 258.20,272.76 258.55,272.53 258.90,272.48 259.25,272.09 259.60,272.55 259.95,272.07 260.30,272.42 260.65,272.01 261.00,272.16 261.35,272.08 261.70,272.80 262.05,272.45 262.40,272.23 262.75,272.19 263.10,272.00 263.45,271.66 263.80,271.82 264.15,272.54 264.50,272.29 264.85,271.54 265.20,272.41 265.55,271.40 265.90,271.94 266.25,270.98 266.60,271.56 266.95,270.83 267.30,271.91 267.65,271.07 268.00,271.28 268.35,271.75 268.70,271.13 269.05,270.73 269.40,270.68 269.75,270.95 270.10,271.02 270.45,270.86 270.80,271.05 271.15,269.57 271.50,269.75 271.85,270.49 272.20,270.46 272.55,270.47 272.90,269.93 273.25,270.58 273.60,268.70 273.95,269.62 274.30,270.90 274.65,269.43 275.00,267.51 275.35,269.91 275.70,269.29 275.90,267.03 276.05,268.10 276.40,265.90 276.75,268.21 276.90,268.76 277.10,269.38 277.40,267.28 277.45,268.39 277.80,266.08 277.90,264.40 278.15,267.30 278.40,268.80 278.50,269.22 278.85,268.53 279.20,268.03 279.40,267.28 279.55,267.13 279.90,259.90 280.25,267.13 280.40,268.86 280.60,267.61 280.95,271.56 281.30,266.45 281.65,266.69 281.70,270.15 282.00,263.90 282.30,257.40 282.35,259.62 282.70,265.12 282.90,267.25 283.05,272.42 283.40,273.12 283.75,272.86 284.10,273.27 284.45,273.22 284.80,272.99 285.15,273.04 285.50,273.11 285.85,272.86 286.20,273.08 286.55,272.98 286.90,273.40 287.25,272.96 287.60,272.75 287.95,273.12 288.30,273.41 288.65,272.88 289.00,273.46 289.35,272.96 289.70,273.06 290.05,272.86 290.40,272.78 290.75,272.76 291.10,272.64 291.45,272.48 291.80,273.08 292.15,272.67 292.50,272.89 292.70,272.78 292.85,271.11 293.20,264.10 293.55,271.11 293.70,272.66 293.90,272.86 294.25,272.69 294.60,272.61 294.70,272.63 294.95,271.79 295.20,270.00 295.30,271.03 295.65,272.55 295.70,272.68 296.00,272.77 296.35,272.79 296.70,272.94 297.05,272.71 297.40,272.73 297.75,272.62 298.10,272.61 298.45,272.86 298.70,272.37 298.80,272.14 299.15,269.90 299.20,269.00 299.50,271.64 299.70,272.59 299.85,272.16 300.10,272.54 300.20,271.64 300.55,267.12 300.60,265.30 300.90,270.63 301.10,272.11 301.25,272.67 301.60,272.52 301.95,272.46 302.30,272.29 302.65,272.32 303.00,272.46 303.35,272.65 303.70,272.42 304.05,272.84 304.40,272.49 304.75,272.24 305.10,272.76 305.45,272.59 305.80,272.43 306.15,272.56 306.50,272.20 306.85,272.62 307.20,272.19 307.55,272.45 307.90,272.78 308.25,272.67 308.60,272.40 308.95,272.49 309.30,272.62 309.65,272.49 310.00,272.67 310.35,272.72 310.70,272.31 311.05,272.74 311.40,272.15 311.75,272.78 312.10,272.22 312.45,272.46 312.80,272.53 313.15,272.66 313.50,272.69 313.85,272.71 314.20,272.59 314.55,272.57 314.90,272.47 315.25,272.25 315.60,272.20 315.95,272.28 316.30,272.48 316.65,272.50 317.00,272.53 317.35,272.58 317.70,272.48 318.05,272.47 318.40,272.44 318.75,272.20 319.10,272.88 319.45,272.79 319.80,272.39 320.15,272.65 320.50,272.71 320.85,272.78 321.20,272.49 321.55,272.62 321.90,272.89 322.25,272.35 322.60,272.57 322.95,272.63 323.30,272.53 323.65,272.97 324.00,272.79 324.35,272.60 324.70,272.48 325.05,272.68 325.40,272.76 325.75,272.62 326.10,272.59 326.45,272.33 326.80,272.65 327.15,272.71 327.50,272.76 327.85,272.78 328.20,272.83 328.55,272.63 328.90,272.58 329.25,272.80 329.60,272.76 329.95,272.44 330.30,272.83 330.65,272.73 331.00,272.83 331.35,272.58 331.70,272.66 332.05,272.64 332.40,272.95 332.75,272.73 333.10,272.66 333.45,272.78 333.80,272.50 334.15,272.62 334.50,272.53 334.85,272.91 335.20,272.68 335.55,272.94 335.90,273.12 336.25,272.63 336.60,272.55 336.95,272.68 337.30,272.60 337.65,272.78 338.00,272.57 338.35,272.72 338.70,272.65 339.05,272.35 339.40,272.66 339.75,272.74 340.10,272.90 340.45,272.59 340.80,272.49 341.15,272.90 341.50,272.60 341.85,272.71 342.20,272.68 342.55,272.84 342.90,272.68 343.25,272.44 343.60,272.84 343.95,272.52 344.30,272.56 344.50,272.64 344.65,272.23 345.00,270.50 345.35,272.23 345.50,272.63 345.70,272.55 346.05,272.27 346.40,272.67 346.75,272.69 347.10,272.60 347.45,272.47 347.80,272.56 348.15,272.77 348.50,272.36 348.85,272.61 349.20,272.55 349.50,272.58 349.55,272.44 349.90,271.11 350.00,270.20 350.25,271.77 350.50,272.40 350.60,272.52 350.95,272.47 351.30,272.75 351.65,272.54 352.00,272.48 352.35,272.36 352.70,272.48 353.05,272.58 353.40,272.73 353.50,272.39 353.75,271.84 354.00,270.50 354.10,271.27 354.45,272.41 354.50,272.47 354.80,272.42 355.15,272.46 355.50,272.41 355.85,272.50 356.20,272.26 356.55,266.17 356.70,260.20 356.90,267.30 357.20,272.50 357.25,273.07 357.60,273.36 357.95,273.68 358.30,273.58 358.65,273.54 359.00,273.62 359.35,273.17 359.70,273.49 360.05,273.64 360.40,273.58 360.75,273.73 361.10,273.69 361.45,273.50 361.80,273.53 362.15,273.78 362.50,273.50 362.85,273.53 363.20,273.70 363.55,273.62 363.90,273.87 364.25,273.40 364.60,273.29 364.95,273.53 365.30,273.74 365.65,273.48 366.00,273.65 366.35,273.72 366.70,273.30 367.05,273.41 367.40,273.33 367.75,273.53 368.10,273.55 368.45,273.66 368.80,273.35 369.15,273.25 369.50,273.19 369.85,273.14 370.20,273.30 370.55,273.10 370.90,273.45 371.25,273.57 371.60,273.56 371.95,273.45 372.30,273.41 372.65,273.35 373.00,273.43 373.35,273.42 373.70,273.40 374.05,273.28 374.40,273.34 374.75,273.39 375.10,273.27 375.45,273.55 375.80,273.17 376.15,273.38 376.50,273.23 376.85,273.69 377.20,273.41 377.55,273.30 377.90,273.27 378.25,273.13 378.60,273.37 378.95,273.32 379.30,273.76 379.65,273.18 380.00,273.60 380.35,273.15 380.70,273.42 381.05,273.37 381.40,273.40 381.75,273.28 382.10,273.35 382.45,273.22 382.80,273.22 383.15,273.43 383.50,273.13 383.85,273.10 384.20,273.02 384.55,273.18 384.90,273.05 385.25,273.51 385.60,273.66 385.95,273.56 386.30,273.04 386.65,273.27 387.00,273.15 387.35,273.30 387.70,273.35 388.05,273.40 388.40,273.33 388.75,273.26 389.10,272.91 389.45,272.93 389.80,273.23 390.15,273.38 390.50,273.36 390.85,273.13 391.20,273.14 391.55,273.25 391.90,273.21 392.25,273.21 392.60,273.01 392.95,273.25 393.30,273.23 393.65,273.19 394.00,272.88 394.35,273.01 394.70,272.71 395.05,272.77 395.40,272.96 395.75,273.05 396.10,273.02 396.45,273.18 396.80,272.90 397.15,273.31 397.50,272.87 397.85,273.02 398.20,272.84 398.55,272.88 398.90,272.83 399.25,272.82 399.60,273.05 399.95,272.54 400.30,272.88 400.65,272.81 400.80,272.84 401.00,272.22 401.30,270.50 401.35,271.09 401.70,272.55 401.80,272.84 402.05,272.79 402.40,272.94 402.75,272.55 403.10,272.92 403.45,272.58 403.80,272.85 404.15,272.73 404.50,272.85 404.80,272.72 404.85,272.49 405.20,270.48 405.30,269.10 405.55,271.49 405.80,272.72 405.90,272.96 406.25,272.48 406.60,272.91 406.95,272.64 407.30,272.46 407.65,272.65 408.00,272.62 408.35,272.97 408.70,272.53 409.05,272.64 409.40,272.67 409.75,272.32 410.10,272.74 410.45,272.35 410.80,272.75 411.15,272.76 411.50,272.50 411.85,272.29 412.20,272.53 412.55,272.52 412.90,272.50 413.25,272.45 413.60,272.34 413.95,272.50 414.30,272.32 414.65,272.68 415.00,272.28 415.35,272.25 415.70,272.35 416.05,272.27 416.40,272.32 416.75,272.36 417.10,272.34 417.45,272.27 417.80,272.46 418.15,272.47 418.50,272.09 418.85,272.30 419.20,272.34 419.55,272.15 419.90,272.35 420.25,272.23 420.60,272.36 420.95,272.25 421.30,272.15 421.65,272.09 422.00,272.16 422.35,271.95 422.70,272.36 423.05,272.17 423.40,272.03 423.75,272.34 424.10,272.05 424.45,272.15 424.80,272.02 425.15,272.07 425.50,271.92 425.85,272.04 426.20,272.27 426.55,271.93 426.90,272.04 427.25,271.91 427.60,272.11 427.95,272.36 428.30,271.84 428.65,272.07 429.00,272.08 429.35,271.87 429.70,271.98 430.05,271.65 430.40,271.96 430.75,271.97 431.10,271.72 431.45,272.11 431.80,272.10 432.15,272.00 432.50,271.68 432.85,271.82 433.20,271.73 433.55,271.92 433.90,272.06 434.25,271.43 434.60,271.87 434.95,271.74 435.30,271.98 435.65,271.66 436.00,271.46 436.35,271.66 436.70,271.49 437.05,271.54 437.40,271.68 437.75,271.57 438.10,271.64 438.45,271.49 438.80,271.97 439.15,271.90 439.50,271.75 439.85,271.46 440.20,271.24 440.55,271.39 440.90,271.36 441.25,271.71 441.60,271.84 441.95,271.50 442.30,271.81 442.65,271.43 443.00,271.42 443.35,271.17 443.70,271.50 444.05,270.72 444.40,270.68 444.75,270.72 445.10,270.92 445.45,270.20 445.80,270.68 446.15,270.30 446.50,269.71 446.85,270.60 447.20,270.13 447.55,270.67 447.90,270.50 448.25,269.83 448.60,270.08 448.95,270.79 449.30,269.42 449.65,269.51 450.00,269.93 450.35,269.82 450.70,269.73 451.05,269.10 451.40,269.36 451.75,269.16 452.10,269.06 452.45,269.84 452.80,269.11 453.15,268.94 453.50,268.57 453.85,268.66 454.20,269.61 454.55,268.92 454.90,269.27 455.25,268.49 455.60,268.61 455.95,269.10 456.30,268.97 456.65,268.99 457.00,268.34 457.30,268.83 457.35,268.83 457.70,267.27 457.80,266.20 458.05,268.05 458.30,268.75 458.40,268.95 458.75,269.97 459.10,269.17 459.45,269.16 459.80,269.12 460.15,268.87 460.50,269.18 460.85,269.46 461.20,269.22 461.30,269.00 461.55,267.33 461.80,264.10 461.90,265.97 462.25,268.37 462.30,268.78 462.60,268.41 462.95,268.85 463.30,269.47 463.65,269.00 464.00,269.10 464.35,269.36 464.70,269.00 465.05,269.41 465.40,268.52 465.75,268.81 465.80,268.75 466.10,267.22 466.30,264.80 466.45,266.84 466.80,269.00 467.15,272.92 467.50,272.96 467.85,272.83 468.20,273.00 468.55,272.68 468.90,272.69 469.25,272.55 469.60,272.84 469.95,272.71 470.30,272.84 470.65,272.55 471.00,272.80 471.35,272.70 471.70,272.89 472.05,272.82 472.40,273.02 472.75,272.69 473.10,272.49 473.45,272.63 473.80,272.53 474.15,272.81 474.50,272.98 474.85,272.63 475.20,272.82 475.55,272.58 475.90,272.47 476.25,272.76 476.60,272.79 476.95,272.46 477.30,272.78 477.65,272.69 478.00,272.90 478.35,272.86 478.70,272.93 479.05,272.72 479.40,272.78 479.75,272.87 480.10,272.58 480.45,272.84 480.80,272.96 481.15,272.74 481.50,272.73 481.85,273.21 482.00,272.70 482.20,269.40 482.50,260.20 482.55,263.34 482.90,271.13 483.00,272.70 483.25,272.44 483.60,272.91 483.95,272.35 484.30,272.86 484.65,272.86 485.00,272.37 485.35,272.94 485.70,272.55 486.05,272.78 486.40,272.69 486.75,272.61 487.10,272.55 487.45,272.92 487.80,272.80 488.15,272.92 488.50,272.68 488.85,272.74 489.20,272.80 489.55,272.59 489.90,272.81 490.25,272.62 490.60,272.43 490.95,272.35 491.30,272.41 491.65,272.70 492.00,272.64 492.35,272.74 492.70,272.66 493.05,272.42 493.40,272.40 493.75,272.39 494.10,272.28 494.45,272.22 494.80,272.40 495.15,272.04 495.50,271.82 495.85,272.28 496.20,272.22 496.55,272.28 496.90,272.86 497.25,272.71 497.60,272.06 497.95,272.52 498.30,271.93 498.65,272.33 499.00,272.29 499.35,271.75 499.70,271.83 500.05,271.93 500.40,272.22 500.75,271.58 501.10,272.14 501.45,272.10 501.80,272.16 502.15,271.73 502.50,271.72 502.85,271.59 503.20,271.44 503.55,271.78 503.90,271.85 504.25,271.66 504.60,271.16 504.95,272.11 505.30,272.04 505.65,271.50 506.00,271.17 506.35,270.90 506.70,271.10 507.05,271.63 507.40,271.02 507.75,271.19 508.10,270.94 508.45,271.58 508.80,271.09 509.15,271.11 509.50,272.18 509.85,272.08 510.20,271.03 510.55,271.11 510.90,271.56 511.25,270.71 511.60,271.51 511.95,271.53 512.30,271.37 512.65,271.52 513.00,271.57 513.35,272.02 513.70,271.25 514.05,271.84 514.40,271.03 514.75,271.32 515.10,270.46 515.45,270.65 515.80,270.43 516.15,270.65 516.50,270.67 516.85,271.55 517.20,270.50 517.55,270.74 517.90,270.89 518.25,270.70 518.60,271.30 518.95,270.96 519.30,271.28 519.65,270.27 520.00,270.56 520.35,270.97 520.70,269.83 521.05,270.58 521.40,269.99 521.75,269.84 522.10,270.01 522.45,270.46 522.80,270.64 523.15,271.08 523.50,269.72 523.85,271.08 524.20,270.44 524.55,269.22 524.90,269.48 525.25,269.44 525.60,270.74 525.95,268.85 526.30,270.79 526.65,268.97 527.00,268.93 527.35,268.86 527.70,268.61 528.05,269.39 528.40,269.91 528.75,268.33 529.10,269.95 529.45,269.74 529.80,269.18 530.15,270.33 530.50,269.38 530.85,269.94 531.20,269.14 531.55,268.19 531.90,268.28 532.25,267.88 532.60,268.31 532.95,268.51 533.30,269.09 533.65,267.89 534.00,270.04 534.35,269.41 534.70,269.71 535.05,268.63 535.40,269.71 535.75,268.15 536.10,269.53 536.45,267.79 536.80,268.40 537.15,268.00 537.50,267.78 537.85,267.90 538.20,268.31 538.55,267.88 538.90,268.92 539.25,267.83 539.60,269.48 539.95,266.88 540.30,266.68 540.65,269.27 541.00,269.40 541.35,268.45 541.70,267.62 542.05,267.61 542.40,267.88 542.75,267.23 543.10,267.67 543.45,267.82 543.80,269.04 544.15,267.11 544.50,268.60 544.85,266.42 545.20,267.37 545.55,267.79 545.90,266.86 546.25,265.72 546.60,268.10 546.95,267.86 547.30,265.57 547.65,265.79 548.00,267.44 548.35,267.47 548.70,265.91 549.05,268.37 549.40,268.30 549.75,266.86 550.10,266.95 550.40,266.59 550.45,266.01 550.80,264.08 551.00,260.90 551.15,263.58 551.50,266.02 551.60,267.62 551.85,265.97 552.20,266.25 552.55,266.01 552.90,266.80 553.25,268.53 553.60,266.35 553.95,267.12 554.30,267.98 554.65,268.28 555.00,267.28 555.35,268.00 555.70,268.07 556.05,266.03 556.40,265.53 556.75,265.65 557.10,266.93 557.45,266.75 557.80,268.12 558.10,267.93 558.15,266.17 558.50,259.69 558.70,249.20 558.85,258.03 559.20,267.38 559.30,269.48 559.55,272.95 559.90,272.71 560.25,272.65 560.60,272.68 560.95,272.62 561.30,272.62 561.65,272.47 562.00,272.63 562.35,272.63 562.70,272.65 563.05,272.45 563.40,272.44 563.75,272.88 564.10,272.57 564.45,272.62 564.80,272.44 565.15,272.48 565.50,272.24 565.85,272.42 566.20,272.30 566.55,272.66 566.90,272.33 567.25,272.51 567.60,272.57 567.95,272.38 568.30,272.52 568.65,272.56 569.00,272.08 569.35,272.30 569.70,272.30 570.05,272.51 570.40,272.32 570.75,272.50 571.10,272.70 571.45,272.27 571.80,272.36 572.15,272.38 572.50,272.38 572.85,272.45 573.20,272.35 573.55,272.47 573.90,272.35 574.25,272.12 574.60,272.10 574.95,272.30 575.30,271.99 575.65,272.31 576.00,272.41 576.35,272.22 576.70,272.10 577.05,272.24 577.40,272.27 577.75,272.14 578.10,272.41 578.45,272.08 578.80,272.29 579.15,272.28 579.50,272.04 579.85,272.01 580.10,272.03 580.20,272.00 580.55,271.76 580.90,271.41 581.10,271.00 581.25,271.35 581.60,271.71 581.95,271.98 582.10,272.08 582.30,272.08 582.65,272.21 583.00,271.99 583.35,272.10 583.70,271.70 584.05,271.65 584.40,272.00 584.75,271.74 585.10,272.02 585.45,272.08 585.80,271.87 586.15,271.85 586.50,271.94 586.85,271.79 587.20,271.95 587.55,272.08 587.90,271.79 588.25,271.81 588.60,271.76 588.95,272.02 589.30,271.79 589.65,272.05 590.00,271.74 590.35,272.09 590.70,271.59 590.80,271.78 591.05,269.92 591.40,267.08 591.75,263.80 592.10,259.68 592.40,252.70 592.45,255.08 592.80,261.00 593.15,264.80 593.50,267.93 593.85,270.67 594.00,271.36 594.20,271.90 594.55,271.51 594.90,271.76 595.25,271.76 595.60,271.44 595.95,271.79 596.30,271.83 596.65,271.56 597.00,271.58 597.35,271.35 597.70,271.42 598.05,271.27 598.40,271.70 598.75,271.73 599.10,271.28 599.45,271.66 599.80,271.47 600.15,271.10 600.50,271.81 600.85,271.82 601.20,271.26 601.55,271.29 601.90,271.62 602.25,271.49 602.60,271.32 602.95,271.47 603.30,271.45 603.65,271.26 604.00,271.62 604.35,271.41 604.70,271.43 605.05,271.36 605.40,271.28 605.75,271.54 606.10,271.19 606.45,271.25 606.80,271.50 607.15,271.46 607.50,271.56 607.85,271.64 608.20,271.23 608.55,271.22 608.90,271.35 609.25,271.16 609.60,271.13 609.95,271.67 610.30,271.28 610.65,271.13 611.00,271.17 611.35,271.24 611.70,271.35 612.05,271.25 612.40,271.51 612.75,271.42 613.10,271.38 613.45,271.59 613.80,271.22 614.15,271.37 614.50,271.06 614.85,271.23 615.20,271.21 615.55,271.00 615.90,271.00 616.25,271.38 616.60,271.10 616.95,270.88 617.30,271.38 617.65,271.27 618.00,271.33 618.35,271.27 618.70,271.15 619.05,271.05 619.40,271.35 619.75,270.87 620.10,271.11 620.45,270.95 620.80,271.06 621.15,271.22 621.50,270.93 621.85,271.19 622.20,271.05 622.55,270.77 622.90,270.97 623.25,271.27 623.60,271.13 623.95,270.68 624.30,270.88 624.65,271.28 625.00,271.15 625.35,270.95 625.70,271.03 626.05,270.80 626.40,270.77 626.75,271.21 627.10,270.87 627.45,270.99 627.80,271.18 628.15,270.85 628.50,270.88 628.85,271.10 629.20,270.88 629.55,270.65 629.90,271.09 630.25,270.73 630.60,271.14 630.95,271.06 631.30,271.15 631.65,270.63 632.00,270.90 632.35,270.37 632.70,270.97 633.05,270.78 633.40,270.88 633.75,270.74 634.10,270.59 634.45,270.85 634.80,270.65 635.15,271.01 635.50,271.03 635.85,270.58 636.20,270.63 636.55,270.51 636.90,270.48 637.25,270.72 637.60,270.49 637.95,270.61 638.30,270.74 638.65,270.65 639.00,270.51 639.35,270.91 639.70,270.84 640.05,270.33 640.40,270.75 640.75,270.75 641.10,270.32 641.45,270.91 641.80,270.53 642.15,270.48 642.50,270.69 642.85,270.76 643.20,270.62 643.55,270.55 643.90,270.54 644.25,270.59 644.60,270.91 644.95,270.98 645.30,270.90 645.65,270.37 646.00,270.76 646.35,270.41 646.70,270.79 647.05,270.77 647.40,270.70 647.75,270.67 648.10,270.50 648.45,270.69 648.80,270.96 649.00,270.63 649.15,270.24 649.50,268.60 649.85,270.24 650.00,270.63 650.20,270.78 650.55,270.57 650.90,270.65 651.25,270.71 651.60,270.84 651.95,271.03 652.30,270.82 652.65,271.08 653.00,270.34 653.35,270.75 653.70,270.29 654.05,270.97 654.40,270.17 654.75,270.33 655.10,270.83 655.45,270.73 655.80,270.62 656.15,270.75 656.50,270.60 656.85,270.76 657.20,270.83 657.55,270.73 657.90,270.75 658.25,270.23 658.60,270.67 658.95,270.57 659.30,270.82 659.65,270.75 659.90,270.68 660.00,270.49 660.35,269.57 660.40,269.20 660.70,270.29 660.90,270.68 661.05,272.94 661.40,273.76 661.75,273.33 662.10,273.45 662.45,273.61 662.80,273.52 663.15,273.49 663.50,273.83 663.85,273.52 664.20,273.45 664.55,273.21 664.90,273.38 665.25,273.35 665.60,273.95 665.95,273.73 666.30,273.45 666.65,273.84 667.00,273.79 667.35,273.60 667.70,273.74 668.05,273.62 668.40,273.47 668.75,273.28 669.10,273.57 669.45,273.64 669.80,273.50 670.15,273.54 670.50,273.68 670.85,273.48 671.20,273.70 671.55,273.62 671.90,273.53 672.25,273.51 672.60,273.62 672.95,273.51 673.20,273.38" fill="none" stroke="#0000ff" stroke-width="1.6" stroke-linejoin="round"/>
<polyline points="685.50,272.55 685.85,272.47 686.20,272.34 686.55,272.42 686.90,272.45 687.25,272.58 687.60,272.57 687.95,272.49 688.30,272.38 688.65,272.94 689.00,272.22 689.35,272.43 689.70,272.87 690.05,272.97 690.40,272.30 690.75,272.34 691.10,272.38 691.45,272.75 691.80,272.34 692.15,272.47 692.50,272.50 692.85,272.59 693.20,272.37 693.55,272.70 693.90,272.77 694.25,272.50 694.60,272.27 694.95,272.61 695.30,272.78 695.65,272.74 696.00,272.45 696.35,272.29 696.70,272.55 697.05,272.68 697.40,272.43 697.75,272.35 698.10,272.70 698.45,272.51 698.80,272.33 699.15,272.60 699.50,272.18 699.85,272.09 700.20,272.34 700.55,272.05 700.90,272.61 701.25,272.35 701.60,272.62 701.95,272.32 702.30,272.28 702.65,272.52 703.00,272.47 703.35,272.24 703.70,272.53 704.05,272.28 704.40,272.21 704.75,272.40 705.10,272.45 705.45,272.28 705.80,272.45 706.15,272.72 706.50,272.18 706.85,268.94 707.00,265.50 707.20,269.59 707.50,272.23 707.55,272.63 707.90,272.29 708.25,272.68 708.60,272.32 708.95,272.12 709.30,272.15 709.65,272.67 710.00,272.24 710.35,272.57 710.60,272.30 710.70,271.22 711.05,264.51 711.10,261.80 711.40,269.73 711.60,272.32 711.75,272.52 712.10,272.25 712.45,271.98 712.80,272.27 713.15,272.38 713.50,272.08 713.85,272.38 714.20,272.53 714.55,272.19 714.90,272.15 715.25,272.25 715.60,272.23 715.95,272.47 716.30,272.31 716.65,272.27 717.00,272.24 717.35,272.19 717.70,272.21 718.05,272.12 718.40,272.28 718.75,272.41 719.10,272.26 719.45,272.55 719.80,272.63 720.15,272.60 720.50,272.45 720.85,272.75 721.20,272.19 721.55,272.36 721.90,272.64 722.25,272.35 722.60,272.10 722.95,272.45 723.30,272.56 723.65,272.13 724.00,272.57 724.35,272.22 724.70,272.20 725.05,272.19 725.40,272.51 725.75,272.29 726.10,272.19 726.45,272.15 726.80,272.45 727.15,272.53 727.50,272.38 727.85,272.58 728.20,272.19 728.55,272.47 728.90,272.06 729.25,272.17 729.60,272.41 729.95,272.56 730.30,272.41 730.65,272.58 731.00,271.90 731.35,272.18 731.70,272.44 732.05,272.28 732.40,272.54 732.75,272.41 733.10,272.06 733.45,272.67 733.80,272.00 734.15,272.51 734.50,272.19 734.85,272.13 735.20,272.34 735.55,272.11 735.90,272.04 736.25,272.51 736.60,271.85 736.95,272.38 737.30,272.40 737.65,272.44 738.00,272.35 738.35,272.07 738.40,272.06 738.70,270.01 738.90,266.60 739.05,269.47 739.40,272.36 739.75,272.46 740.10,271.96 740.45,272.51 740.50,272.31 740.80,270.60 741.00,268.00 741.15,270.19 741.50,272.34 741.85,272.73 742.20,272.25 742.55,272.39 742.90,272.44 743.00,272.26" fill="none" stroke="#0000ff" stroke-width="1.6" stroke-linejoin="round"/>
<g stroke="#000" stroke-width="3.5" stroke-linecap="butt"><line x1="90.75" y1="9.5" x2="746.75" y2="9.5" /><line x1="92.5" y1="9.5" x2="92.5" y2="306.5" /><line x1="745" y1="9.5" x2="745" y2="297.25" /><line x1="92.5" y1="295.5" x2="673.8" y2="295.5" /><line x1="688" y1="295.5" x2="745" y2="295.5" /><line x1="668.6" y1="304.8" x2="679.6" y2="286" stroke-linecap="round"/><line x1="679.7" y1="304.8" x2="690.7" y2="286" stroke-linecap="round"/><line x1="81" y1="273.30" x2="92.5" y2="273.30" /><line x1="81" y1="229.33" x2="92.5" y2="229.33" /><line x1="81" y1="185.36" x2="92.5" y2="185.36" /><line x1="81" y1="141.39" x2="92.5" y2="141.39" /><line x1="81" y1="97.42" x2="92.5" y2="97.42" /><line x1="81" y1="53.45" x2="92.5" y2="53.45" /><line x1="81" y1="9.48" x2="92.5" y2="9.48" /><line x1="86" y1="251.31" x2="92.5" y2="251.31" /><line x1="86" y1="207.35" x2="92.5" y2="207.35" /><line x1="86" y1="163.38" x2="92.5" y2="163.38" /><line x1="86" y1="119.41" x2="92.5" y2="119.41" /><line x1="86" y1="75.44" x2="92.5" y2="75.44" /><line x1="86" y1="31.47" x2="92.5" y2="31.47" /><line x1="86" y1="295.29" x2="92.5" y2="295.29" /><line x1="92.30" y1="295.5" x2="92.30" y2="306.5" /><line x1="200.00" y1="295.5" x2="200.00" y2="306.5" /><line x1="307.70" y1="295.5" x2="307.70" y2="306.5" /><line x1="415.40" y1="295.5" x2="415.40" y2="306.5" /><line x1="523.10" y1="295.5" x2="523.10" y2="306.5" /><line x1="630.80" y1="295.5" x2="630.80" y2="306.5" /><line x1="146.15" y1="295.5" x2="146.15" y2="301" /><line x1="253.85" y1="295.5" x2="253.85" y2="301" /><line x1="361.55" y1="295.5" x2="361.55" y2="301" /><line x1="469.25" y1="295.5" x2="469.25" y2="301" /><line x1="576.95" y1="295.5" x2="576.95" y2="301" /><line x1="695.5" y1="295.5" x2="695.5" y2="306.5" /><line x1="725" y1="295.5" x2="725" y2="306.5" /><line x1="710" y1="295.5" x2="710" y2="301" /><line x1="740" y1="295.5" x2="740" y2="301" /></g>
<line x1="283.2" y1="47.3" x2="227.89" y2="79.93" stroke="#000" stroke-width="2.2"/><polygon points="221,84 226.92,76.33 230.58,82.53" fill="#000"/><line x1="283.2" y1="47.3" x2="346.73" y2="78.75" stroke="#000" stroke-width="2.2"/><polygon points="353.9,82.3 344.24,81.53 347.43,75.08" fill="#000"/><polyline points="462.3,66 462.3,45.6 704.3,45.6" fill="none" stroke="#000" stroke-width="1.3"/><line x1="649.5" y1="45.6" x2="649.5" y2="70" stroke="#000" stroke-width="1.3"/><line x1="704.3" y1="45.6" x2="704.3" y2="60" stroke="#000" stroke-width="1.3"/><polygon points="462.3,65.5 459.8,57.0 464.8,57.0" fill="#000"/><polygon points="649.6,77.8 647.1,69.3 652.1,69.3" fill="#000"/><polygon points="704.3,67.6 701.8,59.099999999999994 706.8,59.099999999999994" fill="#000"/>
<g font-family='"Liberation Serif", serif' fill="#000"><text x="49" y="13.9" font-size="11.5" font-weight="bold">6x10</text><text x="73.5" y="8.7" font-size="5.2" font-weight="bold">4</text><text x="49" y="57.9" font-size="11.5" font-weight="bold">5x10</text><text x="73.5" y="52.7" font-size="5.2" font-weight="bold">4</text><text x="49" y="101.8" font-size="11.5" font-weight="bold">4x10</text><text x="73.5" y="96.6" font-size="5.2" font-weight="bold">4</text><text x="49" y="145.8" font-size="11.5" font-weight="bold">3x10</text><text x="73.5" y="140.6" font-size="5.2" font-weight="bold">4</text><text x="49" y="189.8" font-size="11.5" font-weight="bold">2x10</text><text x="73.5" y="184.6" font-size="5.2" font-weight="bold">4</text><text x="49" y="233.7" font-size="11.5" font-weight="bold">1x10</text><text x="73.5" y="228.5" font-size="5.2" font-weight="bold">4</text><text x="75.7" y="277.7" font-size="11.5" font-weight="bold" text-anchor="end">0</text><text x="92.3" y="321.9" font-size="11.5" font-weight="bold" text-anchor="middle">300</text><text x="200.0" y="321.9" font-size="11.5" font-weight="bold" text-anchor="middle">350</text><text x="307.7" y="321.9" font-size="11.5" font-weight="bold" text-anchor="middle">400</text><text x="415.4" y="321.9" font-size="11.5" font-weight="bold" text-anchor="middle">450</text><text x="523.1" y="321.9" font-size="11.5" font-weight="bold" text-anchor="middle">500</text><text x="630.8" y="321.9" font-size="11.5" font-weight="bold" text-anchor="middle">550</text><text x="695.5" y="321.9" font-size="11.5" font-weight="bold" text-anchor="middle">600</text><text x="725" y="321.9" font-size="11.5" font-weight="bold" text-anchor="middle">630</text><text x="379" y="341.7" font-size="19.5" font-weight="bold" textLength="146.6" lengthAdjust="spacingAndGlyphs">Wavelength (nm)</text><text transform="translate(38.7,228.4) rotate(-90)" font-size="15.5" font-weight="bold" textLength="203.4" lengthAdjust="spacingAndGlyphs">Relative Line Intensity (a.u.)</text><text x="94.6" y="24.9" font-size="13.6" font-weight="bold" textLength="77.8" lengthAdjust="spacingAndGlyphs">Doped Nylon</text><text x="158.8" y="76.2" font-size="14.2" font-weight="bold" textLength="16.6" lengthAdjust="spacingAndGlyphs">Zn</text><text x="473.8" y="64" font-size="14.2" font-weight="bold" textLength="16.6" lengthAdjust="spacingAndGlyphs">Zn</text><text x="261.8" y="24.5" font-size="14.2" font-weight="bold" fill="#ff0000" textLength="60.2" lengthAdjust="spacingAndGlyphs">CN Violet</text><text x="261.8" y="43.7" font-size="14.6" fill="#ff0000" textLength="39" lengthAdjust="spacingAndGlyphs">&#916;&#965; = 0</text><text y="33.8" font-size="14.5" font-weight="bold" fill="#ff0000"><tspan x="539.6">C</tspan><tspan x="549.3" dy="4.8" font-size="7.2">2</tspan><tspan x="557.4" dy="-4.8" textLength="32.4" lengthAdjust="spacingAndGlyphs">Swan</tspan></text><text x="539.2" y="56.8" font-size="14.6" fill="#ff0000" textLength="39" lengthAdjust="spacingAndGlyphs">&#916;&#965; = 0</text><text x="95.6" y="92" font-size="14" font-weight="bold" fill="#ff0000">(c)</text><text x="94.6" y="113.3" font-size="14" font-weight="bold" fill="#ff0000">30 GW/cm<tspan font-size="7.6" dx="1.4" dy="-6.6">2</tspan></text><text x="95.2" y="165.9" font-size="14" font-weight="bold" fill="#000">20 GW/cm<tspan font-size="7.6" dx="1.4" dy="-6.6">2</tspan></text><text x="95.2" y="180" font-size="14" font-weight="bold" fill="#111">(b)</text><text x="94.6" y="253.5" font-size="14" font-weight="bold" fill="#0000ff">10 GW/cm<tspan font-size="7.6" dx="1.4" dy="-6.6">2</tspan></text><text x="95.3" y="267.2" font-size="14" font-weight="bold" fill="#0000ff">(a)</text></g>
<g font-family='"Liberation Sans", sans-serif' fill="#000"><text transform="translate(222.6,78.6) rotate(-90)" font-size="12.8" textLength="45.6" lengthAdjust="spacingAndGlyphs">&#916;&#965; = -1</text><text transform="translate(356.8,75.6) rotate(-90)" font-size="12.8" textLength="48.4" lengthAdjust="spacingAndGlyphs">&#916;&#965; = +1</text><text transform="translate(420.8,38) rotate(43.5)" font-size="12.4" textLength="45.2" lengthAdjust="spacingAndGlyphs">&#916;&#965; = -1</text><text transform="translate(607.6,53.6) rotate(43)" font-size="12.8" textLength="48.5" lengthAdjust="spacingAndGlyphs">&#916;&#965; = +1</text><text transform="translate(666.2,53) rotate(43)" font-size="12.8" textLength="48.5" lengthAdjust="spacingAndGlyphs">&#916;&#965; = +2</text></g>
</svg>
</body></html>
